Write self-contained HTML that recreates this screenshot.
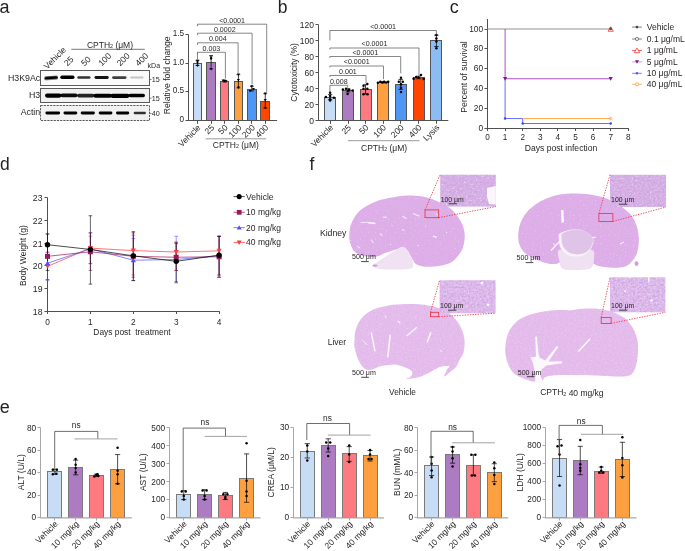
<!DOCTYPE html>
<html><head><meta charset="utf-8"><style>
html,body{margin:0;padding:0;background:#fff;width:685px;height:551px;overflow:hidden}
svg{display:block;will-change:transform;font-family:"Liberation Sans",sans-serif}
</style></head><body>
<svg width="685" height="551" viewBox="0 0 685 551">
<defs><filter id="blur" x="-20%" y="-50%" width="140%" height="200%"><feGaussianBlur stdDeviation="0.75"/></filter>
<filter id="tex" x="0" y="0" width="100%" height="100%"><feTurbulence type="fractalNoise" baseFrequency="0.45" numOctaves="2" seed="7" result="n"/><feColorMatrix in="n" type="matrix" values="0 0 0 0 0.55  0 0 0 0 0.38  0 0 0 0 0.75  0 0 0 2.4 -0.95" result="m"/><feComposite in="m" in2="SourceGraphic" operator="atop" result="d"/><feTurbulence type="fractalNoise" baseFrequency="0.5" numOctaves="1" seed="19" result="n2"/><feColorMatrix in="n2" type="matrix" values="0 0 0 0 1  0 0 0 0 0.97  0 0 0 0 1  0 0 0 1.6 -0.92" result="w"/><feComposite in="w" in2="SourceGraphic" operator="in" result="w2"/><feMerge><feMergeNode in="d"/><feMergeNode in="w2"/></feMerge></filter>
<filter id="tex2" x="0" y="0" width="100%" height="100%"><feTurbulence type="fractalNoise" baseFrequency="0.5" numOctaves="2" seed="11" result="n"/><feColorMatrix in="n" type="matrix" values="0 0 0 0 0.6  0 0 0 0 0.42  0 0 0 0 0.78  0 0 0 0.9 -0.38" result="m"/><feComposite in="m" in2="SourceGraphic" operator="atop" result="d"/><feTurbulence type="fractalNoise" baseFrequency="0.6" numOctaves="1" seed="23" result="n2"/><feColorMatrix in="n2" type="matrix" values="0 0 0 0 1  0 0 0 0 0.98  0 0 0 0 1  0 0 0 1.3 -0.82" result="w"/><feComposite in="w" in2="SourceGraphic" operator="in" result="w2"/><feMerge><feMergeNode in="d"/><feMergeNode in="w2"/></feMerge></filter></defs>
<rect width="685" height="551" fill="#fff"/>
<text x="-0.50" y="12.60" font-size="18" text-anchor="start" fill="#231f20">a</text>
<text x="277.80" y="12.70" font-size="17.5" text-anchor="start" fill="#231f20">b</text>
<text x="449.70" y="12.50" font-size="18" text-anchor="start" fill="#231f20">c</text>
<text x="0.10" y="170.20" font-size="17.5" text-anchor="start" fill="#231f20">d</text>
<text x="309.60" y="170.00" font-size="17.5" text-anchor="start" fill="#231f20">f</text>
<text x="-0.30" y="412.60" font-size="18" text-anchor="start" fill="#231f20">e</text>
<rect x="40.50" y="70.50" width="109.00" height="15.00" fill="#fafafa" stroke="#5a5a5a" stroke-width="1.0"/>
<rect x="40.50" y="88.50" width="109.00" height="14.00" fill="#f1f1f1" stroke="#5a5a5a" stroke-width="1.0"/>
<rect x="40.50" y="105.50" width="109.00" height="15.00" fill="#f1f1f1" stroke="#5a5a5a" stroke-width="1.0" stroke-dasharray="2.2,1"/>
<rect x="44.30" y="76.20" width="13.70" height="3.40" rx="1.70" fill="#000" fill-opacity="1.0" filter="url(#blur)" transform="rotate(-4 51.15 77.90)"/>
<rect x="60.30" y="75.50" width="14.20" height="3.40" rx="1.70" fill="#000" fill-opacity="1.0" filter="url(#blur)"/>
<rect x="77.30" y="76.30" width="13.20" height="2.40" rx="1.20" fill="#000" fill-opacity="0.8" filter="url(#blur)"/>
<rect x="94.50" y="76.10" width="14.20" height="2.80" rx="1.40" fill="#000" fill-opacity="0.92" filter="url(#blur)"/>
<rect x="112.10" y="76.30" width="14.40" height="2.60" rx="1.30" fill="#000" fill-opacity="0.75" filter="url(#blur)"/>
<rect x="130.20" y="76.60" width="13.30" height="2.00" rx="1.00" fill="#000" fill-opacity="0.22" filter="url(#blur)"/>
<rect x="45.00" y="93.50" width="16.50" height="4.20" rx="2.10" fill="#000" fill-opacity="1.0" filter="url(#blur)"/>
<rect x="60.50" y="93.40" width="17.00" height="3.80" rx="1.90" fill="#000" fill-opacity="0.95" filter="url(#blur)"/>
<rect x="77.00" y="93.80" width="17.50" height="3.60" rx="1.80" fill="#000" fill-opacity="0.85" filter="url(#blur)"/>
<rect x="93.50" y="93.70" width="18.50" height="4.00" rx="2.00" fill="#000" fill-opacity="1.0" filter="url(#blur)"/>
<rect x="110.50" y="93.70" width="19.00" height="4.20" rx="2.10" fill="#000" fill-opacity="1.0" filter="url(#blur)"/>
<rect x="128.50" y="93.70" width="16.50" height="3.60" rx="1.80" fill="#000" fill-opacity="1.0" filter="url(#blur)"/>
<rect x="45.40" y="111.60" width="14.70" height="2.80" rx="1.40" fill="#000" fill-opacity="1.0" filter="url(#blur)"/>
<rect x="63.50" y="111.60" width="13.80" height="2.80" rx="1.40" fill="#000" fill-opacity="1.0" filter="url(#blur)"/>
<rect x="80.70" y="111.60" width="14.20" height="2.80" rx="1.40" fill="#000" fill-opacity="1.0" filter="url(#blur)"/>
<rect x="98.70" y="111.60" width="13.70" height="2.80" rx="1.40" fill="#000" fill-opacity="1.0" filter="url(#blur)"/>
<rect x="116.00" y="111.60" width="13.30" height="2.80" rx="1.40" fill="#000" fill-opacity="1.0" filter="url(#blur)"/>
<rect x="133.70" y="111.80" width="12.20" height="2.40" rx="1.20" fill="#000" fill-opacity="0.8" filter="url(#blur)"/>
<text x="40.20" y="81.00" font-size="8.8" text-anchor="end" fill="#231f20">H3K9Ac</text>
<text x="40.20" y="98.00" font-size="8.8" text-anchor="end" fill="#231f20">H3</text>
<text x="40.20" y="114.80" font-size="8.8" text-anchor="end" fill="#231f20">Actin</text>
<text x="147.60" y="67.80" font-size="7" text-anchor="start" fill="#231f20">kDa</text>
<line x1="149.60" y1="79.50" x2="151.60" y2="79.50" stroke="#555" stroke-width="0.7"/>
<text x="151.80" y="82.10" font-size="7.2" text-anchor="start" fill="#231f20">15</text>
<line x1="149.60" y1="98.20" x2="151.60" y2="98.20" stroke="#555" stroke-width="0.7"/>
<text x="151.80" y="100.80" font-size="7.2" text-anchor="start" fill="#231f20">15</text>
<line x1="149.60" y1="113.40" x2="151.60" y2="113.40" stroke="#555" stroke-width="0.7"/>
<text x="151.80" y="116.00" font-size="7.2" text-anchor="start" fill="#231f20">40</text>
<text x="0.00" y="0.00" font-size="8.5" text-anchor="start" fill="#231f20" transform="translate(47.20,69.70) rotate(-45)">Vehicle</text>
<text x="0.00" y="0.00" font-size="8.5" text-anchor="start" fill="#231f20" transform="translate(67.50,66.50) rotate(-45)">25</text>
<text x="0.00" y="0.00" font-size="8.5" text-anchor="start" fill="#231f20" transform="translate(84.60,66.50) rotate(-45)">50</text>
<text x="0.00" y="0.00" font-size="8.5" text-anchor="start" fill="#231f20" transform="translate(101.70,66.50) rotate(-45)">100</text>
<text x="0.00" y="0.00" font-size="8.5" text-anchor="start" fill="#231f20" transform="translate(120.20,66.50) rotate(-45)">200</text>
<text x="0.00" y="0.00" font-size="8.5" text-anchor="start" fill="#231f20" transform="translate(138.80,66.50) rotate(-45)">400</text>
<line x1="71.30" y1="49.30" x2="144.80" y2="49.30" stroke="#555" stroke-width="0.8"/>
<text x="110.00" y="47.50" font-size="8.5" text-anchor="middle" fill="#231f20">CPTH<tspan font-size="0.62em" dy="0.05em">2</tspan> (μM)</text>
<rect x="193.50" y="63.50" width="8.00" height="57.00" fill="#c7dcf5" stroke="#555" stroke-width="1.0"/>
<rect x="206.50" y="62.50" width="9.00" height="58.00" fill="#ac7bc2" stroke="#555" stroke-width="1.0"/>
<rect x="220.50" y="81.50" width="8.00" height="39.00" fill="#ff7a80" stroke="#555" stroke-width="1.0"/>
<rect x="234.50" y="81.50" width="8.00" height="39.00" fill="#ffa040" stroke="#555" stroke-width="1.0"/>
<rect x="247.50" y="89.50" width="9.00" height="31.00" fill="#4f96f5" stroke="#555" stroke-width="1.0"/>
<rect x="260.50" y="101.50" width="9.00" height="19.00" fill="#ff4500" stroke="#555" stroke-width="1.0"/>
<line x1="197.50" y1="60.34" x2="197.50" y2="65.49" stroke="#000" stroke-width="0.75"/>
<line x1="195.60" y1="60.34" x2="199.40" y2="60.34" stroke="#000" stroke-width="0.75"/>
<line x1="195.60" y1="65.49" x2="199.40" y2="65.49" stroke="#000" stroke-width="0.75"/>
<path d="M196.00,59.81 L199.00,59.81 L197.50,62.21 Z" fill="#000" stroke="none" stroke-width="0.7"/>
<path d="M196.00,61.53 L199.00,61.53 L197.50,63.93 Z" fill="#000" stroke="none" stroke-width="0.7"/>
<path d="M196.00,64.68 L199.00,64.68 L197.50,67.08 Z" fill="#000" stroke="none" stroke-width="0.7"/>
<line x1="211.10" y1="55.58" x2="211.10" y2="68.93" stroke="#000" stroke-width="0.75"/>
<line x1="209.20" y1="55.58" x2="213.00" y2="55.58" stroke="#000" stroke-width="0.75"/>
<line x1="209.20" y1="68.93" x2="213.00" y2="68.93" stroke="#000" stroke-width="0.75"/>
<path d="M209.60,56.48 L212.60,56.48 L211.10,58.88 Z" fill="#000" stroke="none" stroke-width="0.7"/>
<path d="M209.60,57.97 L212.60,57.97 L211.10,60.37 Z" fill="#000" stroke="none" stroke-width="0.7"/>
<path d="M209.60,68.06 L212.60,68.06 L211.10,70.46 Z" fill="#000" stroke="none" stroke-width="0.7"/>
<line x1="224.60" y1="80.39" x2="224.60" y2="82.11" stroke="#000" stroke-width="0.75"/>
<line x1="222.70" y1="80.39" x2="226.50" y2="80.39" stroke="#000" stroke-width="0.75"/>
<line x1="222.70" y1="82.11" x2="226.50" y2="82.11" stroke="#000" stroke-width="0.75"/>
<path d="M221.60,79.58 L224.60,79.58 L223.10,81.98 Z" fill="#000" stroke="none" stroke-width="0.7"/>
<path d="M223.10,79.86 L226.10,79.86 L224.60,82.26 Z" fill="#000" stroke="none" stroke-width="0.7"/>
<path d="M224.60,80.15 L227.60,80.15 L226.10,82.55 Z" fill="#000" stroke="none" stroke-width="0.7"/>
<line x1="238.40" y1="74.66" x2="238.40" y2="87.84" stroke="#000" stroke-width="0.75"/>
<line x1="236.50" y1="74.66" x2="240.30" y2="74.66" stroke="#000" stroke-width="0.75"/>
<line x1="236.50" y1="87.84" x2="240.30" y2="87.84" stroke="#000" stroke-width="0.75"/>
<path d="M236.90,73.56 L239.90,73.56 L238.40,75.96 Z" fill="#000" stroke="none" stroke-width="0.7"/>
<path d="M236.90,79.12 L239.90,79.12 L238.40,81.52 Z" fill="#000" stroke="none" stroke-width="0.7"/>
<path d="M236.90,86.62 L239.90,86.62 L238.40,89.02 Z" fill="#000" stroke="none" stroke-width="0.7"/>
<line x1="251.80" y1="86.35" x2="251.80" y2="90.99" stroke="#000" stroke-width="0.75"/>
<line x1="249.90" y1="86.35" x2="253.70" y2="86.35" stroke="#000" stroke-width="0.75"/>
<line x1="249.90" y1="90.99" x2="253.70" y2="90.99" stroke="#000" stroke-width="0.75"/>
<path d="M250.30,85.25 L253.30,85.25 L251.80,87.65 Z" fill="#000" stroke="none" stroke-width="0.7"/>
<path d="M248.50,89.95 L251.50,89.95 L250.00,92.35 Z" fill="#000" stroke="none" stroke-width="0.7"/>
<path d="M252.00,88.11 L255.00,88.11 L253.50,90.51 Z" fill="#000" stroke="none" stroke-width="0.7"/>
<line x1="265.25" y1="93.68" x2="265.25" y2="108.01" stroke="#000" stroke-width="0.75"/>
<line x1="263.35" y1="93.68" x2="267.15" y2="93.68" stroke="#000" stroke-width="0.75"/>
<line x1="263.35" y1="108.01" x2="267.15" y2="108.01" stroke="#000" stroke-width="0.75"/>
<path d="M263.75,92.58 L266.75,92.58 L265.25,94.98 Z" fill="#000" stroke="none" stroke-width="0.7"/>
<path d="M263.75,99.12 L266.75,99.12 L265.25,101.52 Z" fill="#000" stroke="none" stroke-width="0.7"/>
<path d="M263.75,106.91 L266.75,106.91 L265.25,109.31 Z" fill="#000" stroke="none" stroke-width="0.7"/>
<line x1="188.50" y1="34.50" x2="188.50" y2="120.50" stroke="#505050" stroke-width="1.0"/>
<line x1="188.00" y1="120.50" x2="277.10" y2="120.50" stroke="#505050" stroke-width="1.0"/>
<line x1="185.50" y1="120.50" x2="188.50" y2="120.50" stroke="#505050" stroke-width="1.0"/>
<text x="184.10" y="122.10" font-size="8.2" text-anchor="end" fill="#231f20">0</text>
<line x1="185.50" y1="91.50" x2="188.50" y2="91.50" stroke="#505050" stroke-width="1.0"/>
<text x="184.10" y="93.10" font-size="8.2" text-anchor="end" fill="#231f20">0.5</text>
<line x1="185.50" y1="63.50" x2="188.50" y2="63.50" stroke="#505050" stroke-width="1.0"/>
<text x="184.10" y="65.10" font-size="8.2" text-anchor="end" fill="#231f20">1.0</text>
<line x1="185.50" y1="34.50" x2="188.50" y2="34.50" stroke="#505050" stroke-width="1.0"/>
<text x="184.10" y="36.10" font-size="8.2" text-anchor="end" fill="#231f20">1.5</text>
<line x1="197.50" y1="120.50" x2="197.50" y2="123.80" stroke="#505050" stroke-width="1.0"/>
<line x1="211.50" y1="120.50" x2="211.50" y2="123.80" stroke="#505050" stroke-width="1.0"/>
<line x1="224.50" y1="120.50" x2="224.50" y2="123.80" stroke="#505050" stroke-width="1.0"/>
<line x1="238.50" y1="120.50" x2="238.50" y2="123.80" stroke="#505050" stroke-width="1.0"/>
<line x1="251.50" y1="120.50" x2="251.50" y2="123.80" stroke="#505050" stroke-width="1.0"/>
<line x1="265.50" y1="120.50" x2="265.50" y2="123.80" stroke="#505050" stroke-width="1.0"/>
<text x="0.00" y="0.00" font-size="8.5" text-anchor="end" fill="#231f20" transform="translate(201.20,128.10) rotate(-45)">Vehicle</text>
<text x="0.00" y="0.00" font-size="8.5" text-anchor="end" fill="#231f20" transform="translate(214.80,128.10) rotate(-45)">25</text>
<text x="0.00" y="0.00" font-size="8.5" text-anchor="end" fill="#231f20" transform="translate(228.30,128.10) rotate(-45)">50</text>
<text x="0.00" y="0.00" font-size="8.5" text-anchor="end" fill="#231f20" transform="translate(242.10,128.10) rotate(-45)">100</text>
<text x="0.00" y="0.00" font-size="8.5" text-anchor="end" fill="#231f20" transform="translate(255.50,128.10) rotate(-45)">200</text>
<text x="0.00" y="0.00" font-size="8.5" text-anchor="end" fill="#231f20" transform="translate(268.95,128.10) rotate(-45)">400</text>
<text x="0.00" y="0.00" font-size="8.6" text-anchor="middle" fill="#231f20" transform="translate(170.00,75.30) rotate(-90)">Relative fold change</text>
<line x1="205.60" y1="138.80" x2="266.30" y2="138.80" stroke="#9a9a9a" stroke-width="1.0"/>
<text x="235.80" y="147.90" font-size="8.5" text-anchor="middle" fill="#231f20">CPTH<tspan font-size="0.62em" dy="0.05em">2</tspan> (μM)</text>
<line x1="197.50" y1="52.30" x2="225.40" y2="52.30" stroke="#555" stroke-width="0.7"/>
<line x1="197.50" y1="52.30" x2="197.50" y2="54.30" stroke="#555" stroke-width="0.7"/>
<line x1="225.40" y1="52.30" x2="225.40" y2="78.60" stroke="#555" stroke-width="0.7"/>
<text x="211.45" y="50.80" font-size="7.1" text-anchor="middle" fill="#231f20">0.003</text>
<line x1="197.50" y1="42.80" x2="238.10" y2="42.80" stroke="#555" stroke-width="0.7"/>
<line x1="197.50" y1="42.80" x2="197.50" y2="44.80" stroke="#555" stroke-width="0.7"/>
<line x1="238.10" y1="42.80" x2="238.10" y2="73.50" stroke="#555" stroke-width="0.7"/>
<text x="217.80" y="41.30" font-size="7.1" text-anchor="middle" fill="#231f20">0.004</text>
<line x1="197.50" y1="33.20" x2="252.10" y2="33.20" stroke="#555" stroke-width="0.7"/>
<line x1="197.50" y1="33.20" x2="197.50" y2="35.20" stroke="#555" stroke-width="0.7"/>
<line x1="252.10" y1="33.20" x2="252.10" y2="84.50" stroke="#555" stroke-width="0.7"/>
<text x="224.80" y="31.70" font-size="7.1" text-anchor="middle" fill="#231f20">0.0002</text>
<line x1="197.50" y1="24.20" x2="266.70" y2="24.20" stroke="#555" stroke-width="0.7"/>
<line x1="197.50" y1="24.20" x2="197.50" y2="26.20" stroke="#555" stroke-width="0.7"/>
<line x1="266.70" y1="24.20" x2="266.70" y2="92.50" stroke="#555" stroke-width="0.7"/>
<text x="232.10" y="22.70" font-size="7.1" text-anchor="middle" fill="#231f20">&lt;0.0001</text>
<line x1="197.50" y1="52.30" x2="197.50" y2="59.50" stroke="#555" stroke-width="0.7"/>
<rect x="324.50" y="97.50" width="11.00" height="23.00" fill="#c7dcf5" stroke="#555" stroke-width="1.0"/>
<rect x="342.50" y="90.50" width="11.00" height="30.00" fill="#ac7bc2" stroke="#555" stroke-width="1.0"/>
<rect x="360.50" y="89.50" width="11.00" height="31.00" fill="#ff7a80" stroke="#555" stroke-width="1.0"/>
<rect x="377.50" y="82.50" width="11.00" height="38.00" fill="#ffa040" stroke="#555" stroke-width="1.0"/>
<rect x="395.50" y="84.50" width="11.00" height="36.00" fill="#4f96f5" stroke="#555" stroke-width="1.0"/>
<rect x="413.50" y="77.50" width="11.00" height="43.00" fill="#ff4500" stroke="#555" stroke-width="1.0"/>
<rect x="430.50" y="40.50" width="11.00" height="80.00" fill="#8cbcf4" stroke="#555" stroke-width="1.0"/>
<line x1="330.10" y1="94.61" x2="330.10" y2="99.76" stroke="#000" stroke-width="0.75"/>
<line x1="327.90" y1="94.61" x2="332.30" y2="94.61" stroke="#000" stroke-width="0.75"/>
<line x1="327.90" y1="99.76" x2="332.30" y2="99.76" stroke="#000" stroke-width="0.75"/>
<circle cx="330.10" cy="92.68" r="1.25" fill="#000"/>
<circle cx="325.90" cy="97.02" r="1.25" fill="#000"/>
<circle cx="333.90" cy="97.83" r="1.25" fill="#000"/>
<circle cx="330.10" cy="99.19" r="1.25" fill="#000"/>
<circle cx="330.10" cy="100.48" r="1.25" fill="#000"/>
<circle cx="330.10" cy="95.98" r="1.25" fill="#000"/>
<line x1="348.00" y1="88.74" x2="348.00" y2="91.96" stroke="#000" stroke-width="0.75"/>
<line x1="345.80" y1="88.74" x2="350.20" y2="88.74" stroke="#000" stroke-width="0.75"/>
<line x1="345.80" y1="91.96" x2="350.20" y2="91.96" stroke="#000" stroke-width="0.75"/>
<circle cx="342.90" cy="89.47" r="1.25" fill="#000"/>
<circle cx="346.00" cy="88.66" r="1.25" fill="#000"/>
<circle cx="348.00" cy="90.67" r="1.25" fill="#000"/>
<circle cx="349.20" cy="89.87" r="1.25" fill="#000"/>
<circle cx="352.70" cy="90.43" r="1.25" fill="#000"/>
<circle cx="347.60" cy="93.89" r="1.25" fill="#000"/>
<line x1="365.50" y1="84.72" x2="365.50" y2="93.97" stroke="#000" stroke-width="0.75"/>
<line x1="363.30" y1="84.72" x2="367.70" y2="84.72" stroke="#000" stroke-width="0.75"/>
<line x1="363.30" y1="93.97" x2="367.70" y2="93.97" stroke="#000" stroke-width="0.75"/>
<circle cx="363.50" cy="85.69" r="1.25" fill="#000"/>
<circle cx="367.30" cy="83.92" r="1.25" fill="#000"/>
<circle cx="363.50" cy="88.66" r="1.25" fill="#000"/>
<circle cx="367.30" cy="88.66" r="1.25" fill="#000"/>
<circle cx="363.50" cy="94.13" r="1.25" fill="#000"/>
<circle cx="367.50" cy="94.13" r="1.25" fill="#000"/>
<line x1="383.00" y1="81.75" x2="383.00" y2="82.87" stroke="#000" stroke-width="0.75"/>
<line x1="380.80" y1="81.75" x2="385.20" y2="81.75" stroke="#000" stroke-width="0.75"/>
<line x1="380.80" y1="82.87" x2="385.20" y2="82.87" stroke="#000" stroke-width="0.75"/>
<circle cx="377.90" cy="82.87" r="1.25" fill="#000"/>
<circle cx="380.30" cy="81.75" r="1.25" fill="#000"/>
<circle cx="382.30" cy="82.55" r="1.25" fill="#000"/>
<circle cx="384.20" cy="81.75" r="1.25" fill="#000"/>
<circle cx="386.20" cy="82.55" r="1.25" fill="#000"/>
<circle cx="388.20" cy="81.75" r="1.25" fill="#000"/>
<line x1="400.70" y1="79.42" x2="400.70" y2="89.39" stroke="#000" stroke-width="0.75"/>
<line x1="398.50" y1="79.42" x2="402.90" y2="79.42" stroke="#000" stroke-width="0.75"/>
<line x1="398.50" y1="89.39" x2="402.90" y2="89.39" stroke="#000" stroke-width="0.75"/>
<circle cx="401.00" cy="77.81" r="1.25" fill="#000"/>
<circle cx="398.80" cy="81.67" r="1.25" fill="#000"/>
<circle cx="402.80" cy="81.67" r="1.25" fill="#000"/>
<circle cx="401.00" cy="84.16" r="1.25" fill="#000"/>
<circle cx="401.00" cy="87.86" r="1.25" fill="#000"/>
<circle cx="401.00" cy="92.12" r="1.25" fill="#000"/>
<line x1="418.50" y1="76.28" x2="418.50" y2="78.69" stroke="#000" stroke-width="0.75"/>
<line x1="416.30" y1="76.28" x2="420.70" y2="76.28" stroke="#000" stroke-width="0.75"/>
<line x1="416.30" y1="78.69" x2="420.70" y2="78.69" stroke="#000" stroke-width="0.75"/>
<circle cx="413.60" cy="78.69" r="1.25" fill="#000"/>
<circle cx="416.20" cy="76.92" r="1.25" fill="#000"/>
<circle cx="418.60" cy="77.73" r="1.25" fill="#000"/>
<circle cx="421.00" cy="74.99" r="1.25" fill="#000"/>
<circle cx="423.60" cy="78.93" r="1.25" fill="#000"/>
<line x1="436.40" y1="35.20" x2="436.40" y2="46.53" stroke="#000" stroke-width="0.75"/>
<line x1="434.20" y1="35.20" x2="438.60" y2="35.20" stroke="#000" stroke-width="0.75"/>
<line x1="434.20" y1="46.53" x2="438.60" y2="46.53" stroke="#000" stroke-width="0.75"/>
<circle cx="436.40" cy="35.03" r="1.25" fill="#000"/>
<circle cx="436.40" cy="38.41" r="1.25" fill="#000"/>
<circle cx="436.40" cy="41.39" r="1.25" fill="#000"/>
<circle cx="436.40" cy="48.30" r="1.25" fill="#000"/>
<line x1="318.50" y1="24.50" x2="318.50" y2="120.50" stroke="#505050" stroke-width="1.0"/>
<line x1="318.00" y1="120.50" x2="448.30" y2="120.50" stroke="#505050" stroke-width="1.0"/>
<line x1="315.50" y1="120.50" x2="318.50" y2="120.50" stroke="#505050" stroke-width="1.0"/>
<text x="314.00" y="123.70" font-size="8.5" text-anchor="end" fill="#231f20">0</text>
<line x1="315.50" y1="104.50" x2="318.50" y2="104.50" stroke="#505050" stroke-width="1.0"/>
<text x="314.00" y="107.70" font-size="8.5" text-anchor="end" fill="#231f20">20</text>
<line x1="315.50" y1="88.50" x2="318.50" y2="88.50" stroke="#505050" stroke-width="1.0"/>
<text x="314.00" y="91.70" font-size="8.5" text-anchor="end" fill="#231f20">40</text>
<line x1="315.50" y1="72.50" x2="318.50" y2="72.50" stroke="#505050" stroke-width="1.0"/>
<text x="314.00" y="75.70" font-size="8.5" text-anchor="end" fill="#231f20">60</text>
<line x1="315.50" y1="56.50" x2="318.50" y2="56.50" stroke="#505050" stroke-width="1.0"/>
<text x="314.00" y="59.70" font-size="8.5" text-anchor="end" fill="#231f20">80</text>
<line x1="315.50" y1="40.50" x2="318.50" y2="40.50" stroke="#505050" stroke-width="1.0"/>
<text x="314.00" y="43.70" font-size="8.5" text-anchor="end" fill="#231f20">100</text>
<line x1="315.50" y1="24.50" x2="318.50" y2="24.50" stroke="#505050" stroke-width="1.0"/>
<text x="314.00" y="27.70" font-size="8.5" text-anchor="end" fill="#231f20">120</text>
<line x1="330.50" y1="120.50" x2="330.50" y2="123.80" stroke="#505050" stroke-width="1.0"/>
<line x1="348.50" y1="120.50" x2="348.50" y2="123.80" stroke="#505050" stroke-width="1.0"/>
<line x1="365.50" y1="120.50" x2="365.50" y2="123.80" stroke="#505050" stroke-width="1.0"/>
<line x1="383.50" y1="120.50" x2="383.50" y2="123.80" stroke="#505050" stroke-width="1.0"/>
<line x1="400.50" y1="120.50" x2="400.50" y2="123.80" stroke="#505050" stroke-width="1.0"/>
<line x1="418.50" y1="120.50" x2="418.50" y2="123.80" stroke="#505050" stroke-width="1.0"/>
<line x1="436.50" y1="120.50" x2="436.50" y2="123.80" stroke="#505050" stroke-width="1.0"/>
<text x="0.00" y="0.00" font-size="8.5" text-anchor="end" fill="#231f20" transform="translate(333.80,128.10) rotate(-45)">Vehicle</text>
<text x="0.00" y="0.00" font-size="8.5" text-anchor="end" fill="#231f20" transform="translate(351.70,128.10) rotate(-45)">25</text>
<text x="0.00" y="0.00" font-size="8.5" text-anchor="end" fill="#231f20" transform="translate(369.20,128.10) rotate(-45)">50</text>
<text x="0.00" y="0.00" font-size="8.5" text-anchor="end" fill="#231f20" transform="translate(386.70,128.10) rotate(-45)">100</text>
<text x="0.00" y="0.00" font-size="8.5" text-anchor="end" fill="#231f20" transform="translate(404.40,128.10) rotate(-45)">200</text>
<text x="0.00" y="0.00" font-size="8.5" text-anchor="end" fill="#231f20" transform="translate(422.20,128.10) rotate(-45)">400</text>
<text x="0.00" y="0.00" font-size="8.5" text-anchor="end" fill="#231f20" transform="translate(440.10,128.10) rotate(-45)">Lysis</text>
<text x="0.00" y="0.00" font-size="8.45" text-anchor="middle" fill="#231f20" transform="translate(296.50,72.40) rotate(-90)">Cytotoxicity (%)</text>
<line x1="347.90" y1="140.70" x2="419.60" y2="140.70" stroke="#9a9a9a" stroke-width="1.0"/>
<text x="384.10" y="151.20" font-size="8.5" text-anchor="middle" fill="#231f20">CPTH<tspan font-size="0.62em" dy="0.05em">2</tspan> (μM)</text>
<line x1="329.90" y1="30.50" x2="436.40" y2="30.50" stroke="#555" stroke-width="0.7"/>
<line x1="329.90" y1="30.50" x2="329.90" y2="40.40" stroke="#555" stroke-width="0.7"/>
<line x1="436.40" y1="30.50" x2="436.40" y2="34.50" stroke="#555" stroke-width="0.7"/>
<text x="383.15" y="28.80" font-size="7.1" text-anchor="middle" fill="#231f20">&lt;0.0001</text>
<line x1="329.90" y1="48.00" x2="419.00" y2="48.00" stroke="#555" stroke-width="0.7"/>
<line x1="329.90" y1="48.00" x2="329.90" y2="49.50" stroke="#555" stroke-width="0.7"/>
<line x1="419.00" y1="48.00" x2="419.00" y2="76.20" stroke="#555" stroke-width="0.7"/>
<text x="374.45" y="46.30" font-size="7.1" text-anchor="middle" fill="#231f20">&lt;0.0001</text>
<line x1="329.90" y1="56.50" x2="400.70" y2="56.50" stroke="#555" stroke-width="0.7"/>
<line x1="329.90" y1="56.50" x2="329.90" y2="58.00" stroke="#555" stroke-width="0.7"/>
<line x1="400.70" y1="56.50" x2="400.70" y2="73.30" stroke="#555" stroke-width="0.7"/>
<text x="365.30" y="54.80" font-size="7.1" text-anchor="middle" fill="#231f20">&lt;0.0001</text>
<line x1="329.90" y1="66.00" x2="383.50" y2="66.00" stroke="#555" stroke-width="0.7"/>
<line x1="329.90" y1="66.00" x2="329.90" y2="67.50" stroke="#555" stroke-width="0.7"/>
<line x1="383.50" y1="66.00" x2="383.50" y2="79.10" stroke="#555" stroke-width="0.7"/>
<text x="356.70" y="64.30" font-size="7.1" text-anchor="middle" fill="#231f20">&lt;0.0001</text>
<line x1="329.90" y1="75.50" x2="366.00" y2="75.50" stroke="#555" stroke-width="0.7"/>
<line x1="329.90" y1="75.50" x2="329.90" y2="77.00" stroke="#555" stroke-width="0.7"/>
<line x1="366.00" y1="75.50" x2="366.00" y2="83.50" stroke="#555" stroke-width="0.7"/>
<text x="347.95" y="73.80" font-size="7.1" text-anchor="middle" fill="#231f20">0.001</text>
<line x1="329.90" y1="85.30" x2="347.70" y2="85.30" stroke="#555" stroke-width="0.7"/>
<line x1="329.90" y1="85.30" x2="329.90" y2="92.30" stroke="#555" stroke-width="0.7"/>
<line x1="347.70" y1="85.30" x2="347.70" y2="87.90" stroke="#555" stroke-width="0.7"/>
<text x="338.80" y="83.60" font-size="7.1" text-anchor="middle" fill="#231f20">0.008</text>
<line x1="487.50" y1="19.00" x2="487.50" y2="128.50" stroke="#505050" stroke-width="1.0"/>
<line x1="487.00" y1="128.50" x2="628.80" y2="128.50" stroke="#505050" stroke-width="1.0"/>
<line x1="484.50" y1="128.50" x2="487.50" y2="128.50" stroke="#505050" stroke-width="1.0"/>
<text x="483.20" y="131.40" font-size="8.4" text-anchor="end" fill="#231f20">0</text>
<line x1="484.50" y1="108.50" x2="487.50" y2="108.50" stroke="#505050" stroke-width="1.0"/>
<text x="483.20" y="111.40" font-size="8.4" text-anchor="end" fill="#231f20">20</text>
<line x1="484.50" y1="88.50" x2="487.50" y2="88.50" stroke="#505050" stroke-width="1.0"/>
<text x="483.20" y="91.40" font-size="8.4" text-anchor="end" fill="#231f20">40</text>
<line x1="484.50" y1="68.50" x2="487.50" y2="68.50" stroke="#505050" stroke-width="1.0"/>
<text x="483.20" y="71.40" font-size="8.4" text-anchor="end" fill="#231f20">60</text>
<line x1="484.50" y1="48.50" x2="487.50" y2="48.50" stroke="#505050" stroke-width="1.0"/>
<text x="483.20" y="51.40" font-size="8.4" text-anchor="end" fill="#231f20">80</text>
<line x1="484.50" y1="29.50" x2="487.50" y2="29.50" stroke="#505050" stroke-width="1.0"/>
<text x="483.20" y="32.40" font-size="8.4" text-anchor="end" fill="#231f20">100</text>
<line x1="487.50" y1="128.50" x2="487.50" y2="131.00" stroke="#505050" stroke-width="1.0"/>
<text x="487.50" y="139.60" font-size="8.2" text-anchor="middle" fill="#231f20">0</text>
<line x1="505.50" y1="128.50" x2="505.50" y2="131.00" stroke="#505050" stroke-width="1.0"/>
<text x="505.10" y="139.60" font-size="8.2" text-anchor="middle" fill="#231f20">1</text>
<line x1="522.50" y1="128.50" x2="522.50" y2="131.00" stroke="#505050" stroke-width="1.0"/>
<text x="522.70" y="139.60" font-size="8.2" text-anchor="middle" fill="#231f20">2</text>
<line x1="540.50" y1="128.50" x2="540.50" y2="131.00" stroke="#505050" stroke-width="1.0"/>
<text x="540.30" y="139.60" font-size="8.2" text-anchor="middle" fill="#231f20">3</text>
<line x1="557.50" y1="128.50" x2="557.50" y2="131.00" stroke="#505050" stroke-width="1.0"/>
<text x="557.90" y="139.60" font-size="8.2" text-anchor="middle" fill="#231f20">4</text>
<line x1="575.50" y1="128.50" x2="575.50" y2="131.00" stroke="#505050" stroke-width="1.0"/>
<text x="575.50" y="139.60" font-size="8.2" text-anchor="middle" fill="#231f20">5</text>
<line x1="593.50" y1="128.50" x2="593.50" y2="131.00" stroke="#505050" stroke-width="1.0"/>
<text x="593.10" y="139.60" font-size="8.2" text-anchor="middle" fill="#231f20">6</text>
<line x1="610.50" y1="128.50" x2="610.50" y2="131.00" stroke="#505050" stroke-width="1.0"/>
<text x="610.70" y="139.60" font-size="8.2" text-anchor="middle" fill="#231f20">7</text>
<line x1="628.50" y1="128.50" x2="628.50" y2="131.00" stroke="#505050" stroke-width="1.0"/>
<text x="628.30" y="139.60" font-size="8.2" text-anchor="middle" fill="#231f20">8</text>
<text x="561.00" y="150.60" font-size="8.6" text-anchor="middle" fill="#231f20">Days post infection</text>
<text x="0.00" y="0.00" font-size="8.7" text-anchor="middle" fill="#231f20" transform="translate(467.40,77.00) rotate(-90)">Percent of survival</text>
<line x1="487.50" y1="29.00" x2="610.70" y2="29.00" stroke="#9a9090" stroke-width="1.0"/>
<line x1="505.10" y1="29.00" x2="505.10" y2="78.75" stroke="#a040c0" stroke-width="0.9"/>
<line x1="505.10" y1="78.75" x2="610.70" y2="78.75" stroke="#a040c0" stroke-width="0.9"/>
<line x1="505.10" y1="78.75" x2="505.10" y2="118.55" stroke="#5a5aff" stroke-width="0.9"/>
<line x1="505.10" y1="118.55" x2="522.70" y2="118.55" stroke="#5a5aff" stroke-width="0.9"/>
<line x1="522.70" y1="118.55" x2="522.70" y2="123.53" stroke="#5a5aff" stroke-width="0.9"/>
<line x1="522.70" y1="123.53" x2="610.70" y2="123.53" stroke="#5a5aff" stroke-width="0.9"/>
<line x1="522.70" y1="118.55" x2="610.70" y2="118.55" stroke="#ffa040" stroke-width="0.9"/>
<path d="M503.00,77.07 L507.20,77.07 L505.10,80.64 Z" fill="#7a1a90" stroke="none" stroke-width="0.7"/>
<path d="M608.60,77.07 L612.80,77.07 L610.70,80.64 Z" fill="#7a1a90" stroke="none" stroke-width="0.7"/>
<circle cx="505.10" cy="118.55" r="1.3" fill="#4040ff"/>
<circle cx="522.70" cy="123.53" r="1.3" fill="#4040ff"/>
<circle cx="610.70" cy="123.53" r="1.3" fill="#4040ff"/>
<circle cx="610.70" cy="118.55" r="1.3" fill="none" stroke="#ffa040" stroke-width="0.8"/>
<path d="M608.10,31.28 L613.30,31.28 L610.70,26.86 Z" fill="none" stroke="#ff3030" stroke-width="0.8"/>
<circle cx="610.70" cy="28.70" r="1.5" fill="#555"/>
<line x1="632.10" y1="27.10" x2="641.90" y2="27.10" stroke="#555" stroke-width="0.75"/>
<circle cx="637.00" cy="27.10" r="1.3" fill="#444"/>
<text x="646.80" y="30.00" font-size="8.5" text-anchor="start" fill="#231f20">Vehicle</text>
<line x1="632.10" y1="39.00" x2="641.90" y2="39.00" stroke="#555" stroke-width="0.75"/>
<rect x="635.6" y="37.6" width="2.8" height="2.8" rx="0.8" fill="white" stroke="#555" stroke-width="0.9"/>
<text x="646.80" y="41.90" font-size="8.5" text-anchor="start" fill="#231f20">0.1 μg/mL</text>
<line x1="632.10" y1="50.50" x2="641.90" y2="50.50" stroke="#ff3030" stroke-width="0.75"/>
<path d="M634.30,52.66 L639.70,52.66 L637.00,48.07 Z" fill="white" stroke="#ff3030" stroke-width="0.8"/>
<text x="646.80" y="53.40" font-size="8.5" text-anchor="start" fill="#231f20">1 μg/mL</text>
<line x1="632.10" y1="61.90" x2="641.90" y2="61.90" stroke="#c080d0" stroke-width="0.75"/>
<path d="M634.90,60.22 L639.10,60.22 L637.00,63.79 Z" fill="#7a1a90" stroke="none" stroke-width="0.7"/>
<text x="646.80" y="64.80" font-size="8.5" text-anchor="start" fill="#231f20">5 μg/mL</text>
<line x1="632.10" y1="73.30" x2="641.90" y2="73.30" stroke="#5a5aff" stroke-width="0.75"/>
<circle cx="637.00" cy="73.30" r="1.3" fill="#5a5aff"/>
<text x="646.80" y="76.20" font-size="8.5" text-anchor="start" fill="#231f20">10 μg/mL</text>
<line x1="632.10" y1="84.30" x2="641.90" y2="84.30" stroke="#ffa040" stroke-width="0.75"/>
<rect x="635.6" y="82.89999999999999" width="2.8" height="2.8" rx="0.8" fill="white" stroke="#ffa040" stroke-width="0.9"/>
<text x="646.80" y="87.20" font-size="8.5" text-anchor="start" fill="#231f20">40 μg/mL</text>
<line x1="47.50" y1="197.50" x2="47.50" y2="311.50" stroke="#505050" stroke-width="1.0"/>
<line x1="47.00" y1="311.50" x2="219.60" y2="311.50" stroke="#505050" stroke-width="1.0"/>
<line x1="44.50" y1="311.50" x2="47.50" y2="311.50" stroke="#505050" stroke-width="1.0"/>
<text x="42.50" y="314.60" font-size="8.7" text-anchor="end" fill="#231f20">18</text>
<line x1="44.50" y1="288.50" x2="47.50" y2="288.50" stroke="#505050" stroke-width="1.0"/>
<text x="42.50" y="291.60" font-size="8.7" text-anchor="end" fill="#231f20">19</text>
<line x1="44.50" y1="265.50" x2="47.50" y2="265.50" stroke="#505050" stroke-width="1.0"/>
<text x="42.50" y="268.60" font-size="8.7" text-anchor="end" fill="#231f20">20</text>
<line x1="44.50" y1="243.50" x2="47.50" y2="243.50" stroke="#505050" stroke-width="1.0"/>
<text x="42.50" y="246.60" font-size="8.7" text-anchor="end" fill="#231f20">21</text>
<line x1="44.50" y1="220.50" x2="47.50" y2="220.50" stroke="#505050" stroke-width="1.0"/>
<text x="42.50" y="223.60" font-size="8.7" text-anchor="end" fill="#231f20">22</text>
<line x1="44.50" y1="197.50" x2="47.50" y2="197.50" stroke="#505050" stroke-width="1.0"/>
<text x="42.50" y="200.60" font-size="8.7" text-anchor="end" fill="#231f20">23</text>
<line x1="47.50" y1="311.50" x2="47.50" y2="314.00" stroke="#505050" stroke-width="1.0"/>
<text x="47.50" y="324.60" font-size="8.3" text-anchor="middle" fill="#231f20">0</text>
<line x1="90.50" y1="311.50" x2="90.50" y2="314.00" stroke="#505050" stroke-width="1.0"/>
<text x="90.40" y="324.60" font-size="8.3" text-anchor="middle" fill="#231f20">1</text>
<line x1="133.50" y1="311.50" x2="133.50" y2="314.00" stroke="#505050" stroke-width="1.0"/>
<text x="133.30" y="324.60" font-size="8.3" text-anchor="middle" fill="#231f20">2</text>
<line x1="176.50" y1="311.50" x2="176.50" y2="314.00" stroke="#505050" stroke-width="1.0"/>
<text x="176.20" y="324.60" font-size="8.3" text-anchor="middle" fill="#231f20">3</text>
<line x1="219.50" y1="311.50" x2="219.50" y2="314.00" stroke="#505050" stroke-width="1.0"/>
<text x="219.10" y="324.60" font-size="8.3" text-anchor="middle" fill="#231f20">4</text>
<text x="132.00" y="334.80" font-size="8.4" text-anchor="middle" fill="#231f20" xml:space="preserve">Days post  treatment</text>
<text x="0.00" y="0.00" font-size="8.5" text-anchor="middle" fill="#231f20" transform="translate(26.20,255.50) rotate(-90)">Body Weight (g)</text>
<line x1="47.50" y1="252.22" x2="47.50" y2="279.58" stroke="#ff3a3a" stroke-width="0.6"/>
<line x1="45.70" y1="252.22" x2="49.30" y2="252.22" stroke="#ff3a3a" stroke-width="0.6"/>
<line x1="45.70" y1="279.58" x2="49.30" y2="279.58" stroke="#ff3a3a" stroke-width="0.6"/>
<line x1="90.40" y1="236.26" x2="90.40" y2="263.62" stroke="#ff3a3a" stroke-width="0.6"/>
<line x1="88.60" y1="236.26" x2="92.20" y2="236.26" stroke="#ff3a3a" stroke-width="0.6"/>
<line x1="88.60" y1="263.62" x2="92.20" y2="263.62" stroke="#ff3a3a" stroke-width="0.6"/>
<line x1="133.30" y1="235.12" x2="133.30" y2="275.02" stroke="#ff3a3a" stroke-width="0.6"/>
<line x1="131.50" y1="235.12" x2="135.10" y2="235.12" stroke="#ff3a3a" stroke-width="0.6"/>
<line x1="131.50" y1="275.02" x2="135.10" y2="275.02" stroke="#ff3a3a" stroke-width="0.6"/>
<line x1="176.20" y1="243.10" x2="176.20" y2="270.46" stroke="#ff3a3a" stroke-width="0.6"/>
<line x1="174.40" y1="243.10" x2="178.00" y2="243.10" stroke="#ff3a3a" stroke-width="0.6"/>
<line x1="174.40" y1="270.46" x2="178.00" y2="270.46" stroke="#ff3a3a" stroke-width="0.6"/>
<line x1="219.10" y1="236.26" x2="219.10" y2="277.30" stroke="#ff3a3a" stroke-width="0.6"/>
<line x1="217.30" y1="236.26" x2="220.90" y2="236.26" stroke="#ff3a3a" stroke-width="0.6"/>
<line x1="217.30" y1="277.30" x2="220.90" y2="277.30" stroke="#ff3a3a" stroke-width="0.6"/>
<line x1="47.50" y1="252.22" x2="47.50" y2="280.72" stroke="#5050ff" stroke-width="0.6"/>
<line x1="45.70" y1="252.22" x2="49.30" y2="252.22" stroke="#5050ff" stroke-width="0.6"/>
<line x1="45.70" y1="280.72" x2="49.30" y2="280.72" stroke="#5050ff" stroke-width="0.6"/>
<line x1="90.40" y1="232.84" x2="90.40" y2="263.62" stroke="#5050ff" stroke-width="0.6"/>
<line x1="88.60" y1="232.84" x2="92.20" y2="232.84" stroke="#5050ff" stroke-width="0.6"/>
<line x1="88.60" y1="263.62" x2="92.20" y2="263.62" stroke="#5050ff" stroke-width="0.6"/>
<line x1="133.30" y1="238.54" x2="133.30" y2="280.72" stroke="#5050ff" stroke-width="0.6"/>
<line x1="131.50" y1="238.54" x2="135.10" y2="238.54" stroke="#5050ff" stroke-width="0.6"/>
<line x1="131.50" y1="280.72" x2="135.10" y2="280.72" stroke="#5050ff" stroke-width="0.6"/>
<line x1="176.20" y1="236.26" x2="176.20" y2="283.00" stroke="#5050ff" stroke-width="0.6"/>
<line x1="174.40" y1="236.26" x2="178.00" y2="236.26" stroke="#5050ff" stroke-width="0.6"/>
<line x1="174.40" y1="283.00" x2="178.00" y2="283.00" stroke="#5050ff" stroke-width="0.6"/>
<line x1="219.10" y1="236.26" x2="219.10" y2="277.30" stroke="#5050ff" stroke-width="0.6"/>
<line x1="217.30" y1="236.26" x2="220.90" y2="236.26" stroke="#5050ff" stroke-width="0.6"/>
<line x1="217.30" y1="277.30" x2="220.90" y2="277.30" stroke="#5050ff" stroke-width="0.6"/>
<line x1="47.50" y1="233.98" x2="47.50" y2="279.58" stroke="#99195a" stroke-width="0.6"/>
<line x1="45.70" y1="233.98" x2="49.30" y2="233.98" stroke="#99195a" stroke-width="0.6"/>
<line x1="45.70" y1="279.58" x2="49.30" y2="279.58" stroke="#99195a" stroke-width="0.6"/>
<line x1="90.40" y1="232.84" x2="90.40" y2="270.46" stroke="#99195a" stroke-width="0.6"/>
<line x1="88.60" y1="232.84" x2="92.20" y2="232.84" stroke="#99195a" stroke-width="0.6"/>
<line x1="88.60" y1="270.46" x2="92.20" y2="270.46" stroke="#99195a" stroke-width="0.6"/>
<line x1="133.30" y1="232.84" x2="133.30" y2="277.30" stroke="#99195a" stroke-width="0.6"/>
<line x1="131.50" y1="232.84" x2="135.10" y2="232.84" stroke="#99195a" stroke-width="0.6"/>
<line x1="131.50" y1="277.30" x2="135.10" y2="277.30" stroke="#99195a" stroke-width="0.6"/>
<line x1="176.20" y1="241.96" x2="176.20" y2="270.46" stroke="#99195a" stroke-width="0.6"/>
<line x1="174.40" y1="241.96" x2="178.00" y2="241.96" stroke="#99195a" stroke-width="0.6"/>
<line x1="174.40" y1="270.46" x2="178.00" y2="270.46" stroke="#99195a" stroke-width="0.6"/>
<line x1="219.10" y1="236.26" x2="219.10" y2="277.30" stroke="#99195a" stroke-width="0.6"/>
<line x1="217.30" y1="236.26" x2="220.90" y2="236.26" stroke="#99195a" stroke-width="0.6"/>
<line x1="217.30" y1="277.30" x2="220.90" y2="277.30" stroke="#99195a" stroke-width="0.6"/>
<line x1="47.50" y1="233.98" x2="47.50" y2="270.46" stroke="#000" stroke-width="0.6"/>
<line x1="45.70" y1="233.98" x2="49.30" y2="233.98" stroke="#000" stroke-width="0.6"/>
<line x1="45.70" y1="270.46" x2="49.30" y2="270.46" stroke="#000" stroke-width="0.6"/>
<line x1="90.40" y1="215.74" x2="90.40" y2="284.14" stroke="#000" stroke-width="0.6"/>
<line x1="88.60" y1="215.74" x2="92.20" y2="215.74" stroke="#000" stroke-width="0.6"/>
<line x1="88.60" y1="284.14" x2="92.20" y2="284.14" stroke="#000" stroke-width="0.6"/>
<line x1="133.30" y1="231.70" x2="133.30" y2="280.49" stroke="#000" stroke-width="0.6"/>
<line x1="131.50" y1="231.70" x2="135.10" y2="231.70" stroke="#000" stroke-width="0.6"/>
<line x1="131.50" y1="280.49" x2="135.10" y2="280.49" stroke="#000" stroke-width="0.6"/>
<line x1="176.20" y1="243.10" x2="176.20" y2="281.86" stroke="#000" stroke-width="0.6"/>
<line x1="174.40" y1="243.10" x2="178.00" y2="243.10" stroke="#000" stroke-width="0.6"/>
<line x1="174.40" y1="281.86" x2="178.00" y2="281.86" stroke="#000" stroke-width="0.6"/>
<line x1="219.10" y1="236.26" x2="219.10" y2="275.02" stroke="#000" stroke-width="0.6"/>
<line x1="217.30" y1="236.26" x2="220.90" y2="236.26" stroke="#000" stroke-width="0.6"/>
<line x1="217.30" y1="275.02" x2="220.90" y2="275.02" stroke="#000" stroke-width="0.6"/>
<polyline points="47.50,266.36 90.40,248.12 133.30,250.62 176.20,251.99 219.10,250.85" fill="none" stroke="#ff3a3a" stroke-width="0.7"/>
<polyline points="47.50,263.16 90.40,248.80 133.30,260.20 176.20,259.52 219.10,255.64" fill="none" stroke="#5050ff" stroke-width="0.7"/>
<polyline points="47.50,256.32 90.40,251.76 133.30,256.32 176.20,257.24 219.10,256.78" fill="none" stroke="#99195a" stroke-width="0.7"/>
<polyline points="47.50,244.70 90.40,249.48 133.30,255.87 176.20,261.34 219.10,255.18" fill="none" stroke="#000" stroke-width="0.7"/>
<path d="M44.90,264.36 L50.10,264.36 L47.50,268.86 Z" fill="#ff3a3a" stroke="none" stroke-width="0.7"/>
<path d="M87.80,246.12 L93.00,246.12 L90.40,250.62 Z" fill="#ff3a3a" stroke="none" stroke-width="0.7"/>
<path d="M130.70,248.62 L135.90,248.62 L133.30,253.12 Z" fill="#ff3a3a" stroke="none" stroke-width="0.7"/>
<path d="M173.60,249.99 L178.80,249.99 L176.20,254.49 Z" fill="#ff3a3a" stroke="none" stroke-width="0.7"/>
<path d="M216.50,248.85 L221.70,248.85 L219.10,253.35 Z" fill="#ff3a3a" stroke="none" stroke-width="0.7"/>
<path d="M44.90,265.16 L50.10,265.16 L47.50,260.66 Z" fill="#5050ff" stroke="none" stroke-width="0.7"/>
<path d="M87.80,250.80 L93.00,250.80 L90.40,246.30 Z" fill="#5050ff" stroke="none" stroke-width="0.7"/>
<path d="M130.70,262.20 L135.90,262.20 L133.30,257.70 Z" fill="#5050ff" stroke="none" stroke-width="0.7"/>
<path d="M173.60,261.52 L178.80,261.52 L176.20,257.02 Z" fill="#5050ff" stroke="none" stroke-width="0.7"/>
<path d="M216.50,257.64 L221.70,257.64 L219.10,253.14 Z" fill="#5050ff" stroke="none" stroke-width="0.7"/>
<rect x="45.00" y="253.82" width="5.00" height="5.00" fill="#99195a" stroke="none" stroke-width="0.7"/>
<rect x="87.90" y="249.26" width="5.00" height="5.00" fill="#99195a" stroke="none" stroke-width="0.7"/>
<rect x="130.80" y="253.82" width="5.00" height="5.00" fill="#99195a" stroke="none" stroke-width="0.7"/>
<rect x="173.70" y="254.74" width="5.00" height="5.00" fill="#99195a" stroke="none" stroke-width="0.7"/>
<rect x="216.60" y="254.28" width="5.00" height="5.00" fill="#99195a" stroke="none" stroke-width="0.7"/>
<circle cx="47.50" cy="244.70" r="2.7" fill="#000"/>
<circle cx="90.40" cy="249.48" r="2.7" fill="#000"/>
<circle cx="133.30" cy="255.87" r="2.7" fill="#000"/>
<circle cx="176.20" cy="261.34" r="2.7" fill="#000"/>
<circle cx="219.10" cy="255.18" r="2.7" fill="#000"/>
<line x1="233.50" y1="196.60" x2="244.80" y2="196.60" stroke="#000" stroke-width="0.7"/>
<circle cx="239.20" cy="196.60" r="2.565" fill="#000"/>
<text x="246.10" y="199.50" font-size="8.5" text-anchor="start" fill="#231f20">Vehicle</text>
<line x1="233.50" y1="212.30" x2="244.80" y2="212.30" stroke="#99195a" stroke-width="0.7"/>
<rect x="236.82" y="209.93" width="4.75" height="4.75" fill="#99195a" stroke="none" stroke-width="0.7"/>
<text x="246.10" y="215.20" font-size="8.5" text-anchor="start" fill="#231f20">10 mg/kg</text>
<line x1="233.50" y1="227.60" x2="244.80" y2="227.60" stroke="#5050ff" stroke-width="0.7"/>
<path d="M236.73,229.50 L241.67,229.50 L239.20,225.22 Z" fill="#5050ff" stroke="none" stroke-width="0.7"/>
<text x="246.10" y="230.50" font-size="8.5" text-anchor="start" fill="#231f20">20 mg/kg</text>
<line x1="233.50" y1="242.50" x2="244.80" y2="242.50" stroke="#ff3a3a" stroke-width="0.7"/>
<path d="M236.73,240.60 L241.67,240.60 L239.20,244.88 Z" fill="#ff3a3a" stroke="none" stroke-width="0.7"/>
<text x="246.10" y="245.40" font-size="8.5" text-anchor="start" fill="#231f20">40 mg/kg</text>
<path d="M349.3,238.0 C349.1,235.1 349.3,231.2 350.0,228.0 C350.7,224.8 352.1,221.7 353.5,219.0 C354.9,216.3 356.6,214.0 358.5,212.0 C360.4,210.0 362.8,208.4 365.0,207.0 C367.2,205.6 369.3,204.5 372.0,203.3 C374.7,202.1 376.8,200.9 381.0,199.8 C385.2,198.7 392.4,197.2 397.5,196.5 C402.6,195.8 406.8,195.5 411.5,195.6 C416.2,195.7 421.0,196.2 425.8,197.3 C430.6,198.4 436.0,200.5 440.1,202.4 C444.2,204.3 447.3,205.9 450.4,208.5 C453.5,211.1 456.3,214.5 458.5,217.7 C460.7,220.9 462.6,224.5 463.6,227.9 C464.6,231.3 464.9,234.7 464.7,238.1 C464.5,241.5 463.8,245.3 462.6,248.4 C461.4,251.5 459.5,254.1 457.5,256.5 C455.5,258.9 453.3,261.2 450.4,262.7 C447.5,264.2 444.2,265.0 440.1,265.7 C436.0,266.4 429.9,267.0 425.8,266.7 C421.7,266.4 418.2,265.6 415.6,263.7 C413.1,261.8 411.9,257.7 410.5,255.5 C409.1,253.3 408.9,251.6 407.4,250.4 C405.9,249.2 403.7,248.4 401.3,248.4 C398.9,248.4 395.8,249.6 393.1,250.4 C390.4,251.2 387.7,252.0 385.0,253.0 C382.3,254.0 379.7,255.9 377.0,256.5 C374.3,257.1 371.7,257.0 369.0,256.8 C366.3,256.6 363.3,256.1 361.0,255.3 C358.7,254.5 356.7,253.8 355.0,252.2 C353.3,250.6 351.9,247.9 351.0,245.5 C350.1,243.1 349.5,240.9 349.3,238.0 Z" fill="#dfaee8" stroke="none" stroke-width="0.7" filter="url(#tex2)"/>
<path d="M402.0,246.8 C403.9,246.6 405.1,247.5 406.5,249.0 C407.9,250.5 409.4,253.7 410.5,256.0 C411.6,258.3 412.9,260.9 413.0,263.0 C413.1,265.1 414.0,267.4 411.0,268.5 C408.0,269.6 400.2,269.4 395.0,269.5 C389.8,269.6 383.8,269.6 380.0,269.0 C376.2,268.4 372.8,267.1 372.5,265.8 C372.2,264.6 375.6,263.2 378.0,261.5 C380.4,259.8 384.2,257.3 387.0,255.5 C389.8,253.7 392.5,251.9 395.0,250.5 C397.5,249.1 400.1,247.1 402.0,246.8 Z" fill="#f0e2f3" stroke="none" stroke-width="0.7"/>
<ellipse cx="375" cy="265.6" rx="2.6" ry="1.1" fill="#cf98dc"/>
<line x1="360.70" y1="222.60" x2="368.00" y2="222.20" stroke="#f6eef8" stroke-width="0.9"/>
<line x1="368.00" y1="222.60" x2="375.20" y2="223.40" stroke="#f6eef8" stroke-width="1.6"/>
<line x1="382.90" y1="217.20" x2="387.00" y2="217.20" stroke="#f6eef8" stroke-width="1.0"/>
<line x1="402.40" y1="216.30" x2="406.50" y2="218.60" stroke="#f6eef8" stroke-width="1.2"/>
<line x1="379.80" y1="233.60" x2="382.50" y2="235.40" stroke="#f6eef8" stroke-width="1.1"/>
<line x1="371.10" y1="239.50" x2="373.40" y2="243.10" stroke="#f6eef8" stroke-width="1.0"/>
<line x1="391.50" y1="225.20" x2="392.50" y2="225.60" stroke="#f6eef8" stroke-width="1.0"/>
<line x1="402.00" y1="229.50" x2="404.70" y2="230.40" stroke="#f6eef8" stroke-width="1.0"/>
<line x1="413.00" y1="213.50" x2="419.60" y2="216.20" stroke="#f6eef8" stroke-width="1.2"/>
<line x1="432.80" y1="236.10" x2="436.80" y2="237.40" stroke="#f6eef8" stroke-width="1.5"/>
<line x1="417.80" y1="245.10" x2="418.80" y2="245.60" stroke="#f6eef8" stroke-width="1.0"/>
<line x1="436.30" y1="213.50" x2="437.30" y2="215.50" stroke="#f6eef8" stroke-width="1.0"/>
<line x1="425.00" y1="226.00" x2="426.00" y2="226.50" stroke="#f6eef8" stroke-width="0.9"/>
<line x1="446.00" y1="232.00" x2="447.00" y2="233.00" stroke="#f6eef8" stroke-width="0.9"/>
<line x1="390.00" y1="244.00" x2="391.00" y2="245.00" stroke="#f6eef8" stroke-width="0.9"/>
<line x1="357.00" y1="246.00" x2="360.00" y2="248.00" stroke="#f6eef8" stroke-width="0.9"/>
<path d="M518.2,238.1 C518.0,234.0 518.7,228.2 520.2,223.8 C521.7,219.4 524.3,215.2 527.4,211.6 C530.5,208.0 534.4,205.0 538.6,202.4 C542.9,199.8 547.5,197.7 552.9,196.2 C558.3,194.7 565.5,193.9 571.3,193.6 C577.1,193.3 582.2,193.5 587.7,194.2 C593.2,194.9 598.9,196.0 604.0,197.7 C609.1,199.4 613.9,201.6 618.3,204.4 C622.7,207.2 627.5,211.0 630.6,214.6 C633.7,218.2 635.3,222.0 636.7,225.9 C638.1,229.8 638.6,234.0 638.8,238.1 C639.0,242.2 638.4,247.2 637.7,250.4 C637.0,253.7 635.9,255.6 634.7,257.6 C633.5,259.7 632.3,261.2 630.6,262.7 C628.9,264.2 627.5,265.8 624.4,266.7 C621.3,267.6 616.6,268.0 612.2,267.8 C607.8,267.6 601.5,266.7 597.9,265.7 C594.3,264.7 592.4,263.0 590.7,261.6 C589.0,260.2 590.3,258.0 587.7,257.6 C585.1,257.2 579.1,258.5 575.0,259.0 C570.9,259.5 566.1,259.8 563.1,260.6 C560.1,261.4 559.4,263.2 557.0,263.7 C554.6,264.2 551.9,264.2 548.8,263.7 C545.7,263.2 542.0,262.0 538.6,260.6 C535.2,259.2 531.3,257.5 528.4,255.5 C525.5,253.5 522.9,251.3 521.2,248.4 C519.5,245.5 518.4,242.2 518.2,238.1 Z" fill="#dfaee8" stroke="none" stroke-width="0.7" filter="url(#tex2)"/>
<path d="M559.0,250.0 C561.6,248.5 569.5,252.0 575.0,252.0 C580.5,252.0 588.8,249.0 592.0,250.0 C595.2,251.0 594.2,255.0 594.0,258.0 C593.8,261.0 594.0,266.0 591.0,268.0 C588.0,270.0 580.7,269.8 576.0,270.0 C571.3,270.2 565.8,270.5 563.0,269.0 C560.2,267.5 560.2,264.2 559.5,261.0 C558.8,257.8 556.4,251.5 559.0,250.0 Z" fill="#efe1f1" stroke="none" stroke-width="0.7"/>
<path d="M560.9,232.7 C564.1,231.1 572.8,228.3 578.1,229.0 C583.4,229.8 590.4,233.7 592.5,237.0 C594.7,240.2 592.8,245.4 591.1,248.5 C589.4,251.6 586.0,254.5 582.4,255.7 C578.8,256.9 573.1,256.9 569.5,255.7 C565.9,254.5 562.6,251.4 560.9,248.5 C559.1,245.6 558.8,241.0 558.8,238.4 C558.8,235.8 557.6,234.2 560.9,232.7 Z" fill="#f8f1f9" stroke="none" stroke-width="0.7"/>
<path d="M563.5,232.7 C566.4,231.3 574.4,228.8 579.2,229.4 C584.0,230.1 590.3,233.7 592.3,236.6 C594.3,239.5 592.5,244.3 591.0,247.1 C589.5,249.9 586.4,252.5 583.1,253.6 C579.8,254.7 574.7,254.7 571.4,253.6 C568.1,252.5 565.1,249.7 563.5,247.1 C561.9,244.5 561.6,240.3 561.6,237.9 C561.6,235.5 560.6,234.1 563.5,232.7 Z" fill="#e0c4e7" stroke="none" stroke-width="0.7"/>
<line x1="560.00" y1="241.00" x2="551.00" y2="250.50" stroke="#fbf6fb" stroke-width="1.3"/>
<line x1="556.00" y1="246.00" x2="553.00" y2="243.50" stroke="#fbf6fb" stroke-width="1.0"/>
<line x1="592.00" y1="238.00" x2="596.00" y2="237.00" stroke="#fbf6fb" stroke-width="1.2"/>
<path d="M561,210 L563.5,210 L564,222 L561.5,223 Z" fill="#fbf6fb" stroke="none" stroke-width="0.7"/>
<ellipse cx="636.5" cy="263.5" rx="2" ry="2.5" fill="#d4a0e0"/>
<line x1="620.00" y1="244.00" x2="624.00" y2="242.00" stroke="#fbf6fb" stroke-width="1.0"/>
<path d="M354.5,340.5 C354.6,337.9 354.6,334.2 355.4,331.1 C356.2,328.0 357.4,324.5 359.2,321.6 C360.9,318.8 363.2,316.1 365.9,314.0 C368.6,311.9 371.6,310.1 375.4,308.7 C379.2,307.3 383.6,306.2 388.7,305.4 C393.8,304.6 400.3,304.2 405.7,304.1 C411.1,304.0 416.1,304.1 420.9,304.5 C425.6,304.9 430.1,305.7 434.2,306.8 C438.3,307.9 442.1,309.1 445.6,311.1 C449.1,313.1 452.4,315.7 455.1,318.7 C457.8,321.7 460.1,325.6 461.7,329.2 C463.3,332.8 464.3,336.7 464.6,340.5 C464.9,344.3 464.4,348.7 463.6,351.9 C462.8,355.1 461.1,357.0 459.8,359.5 C458.5,362.0 457.7,364.8 456.0,367.0 C454.3,369.2 451.5,370.9 449.5,372.5 C447.5,374.1 444.6,377.0 444.2,376.5 C443.8,376.0 446.2,371.2 447.0,369.5 C447.8,367.8 450.4,366.6 449.2,366.2 C448.0,365.8 443.0,366.1 440.0,367.0 C437.0,367.9 434.6,370.0 431.0,371.7 C427.4,373.4 422.5,376.1 418.4,377.3 C414.3,378.5 407.6,379.1 406.3,379.0 C405.0,378.9 409.7,377.7 410.7,376.7 C411.7,375.7 412.5,374.0 412.3,372.8 C412.1,371.6 411.3,370.7 409.6,369.6 C407.9,368.5 404.4,367.1 402.0,366.3 C399.6,365.5 397.6,364.8 395.4,364.6 C393.2,364.4 391.4,364.7 388.8,365.0 C386.2,365.3 382.6,365.6 380.0,366.3 C377.4,367.0 375.7,368.4 373.5,369.0 C371.3,369.6 368.9,370.4 366.9,369.8 C364.9,369.2 363.0,367.4 361.4,365.2 C359.8,363.0 358.1,359.4 357.0,356.4 C355.9,353.4 354.9,349.6 354.5,347.0 C354.1,344.4 354.4,343.1 354.5,340.5 Z" fill="#e6bdec" stroke="none" stroke-width="0.7" filter="url(#tex2)"/>
<line x1="371.20" y1="332.30" x2="375.00" y2="351.30" stroke="#fbf4fb" stroke-width="1.5"/>
<line x1="390.20" y1="334.80" x2="387.70" y2="357.70" stroke="#fbf4fb" stroke-width="1.6"/>
<line x1="406.70" y1="336.10" x2="416.90" y2="327.20" stroke="#fbf4fb" stroke-width="1.3"/>
<line x1="430.90" y1="332.30" x2="427.10" y2="342.40" stroke="#fbf4fb" stroke-width="1.5"/>
<line x1="397.80" y1="320.80" x2="400.40" y2="323.40" stroke="#fbf4fb" stroke-width="1.2"/>
<line x1="362.30" y1="339.90" x2="367.30" y2="345.00" stroke="#fbf4fb" stroke-width="0.9"/>
<line x1="385.00" y1="316.00" x2="386.00" y2="318.00" stroke="#fbf4fb" stroke-width="1"/>
<line x1="440.00" y1="350.00" x2="442.00" y2="352.00" stroke="#fbf4fb" stroke-width="0.9"/>
<path d="M505.3,347.9 C505.6,344.4 506.0,339.1 507.4,335.2 C508.8,331.3 511.1,327.6 513.8,324.6 C516.4,321.6 519.2,319.2 523.3,317.2 C527.3,315.2 532.8,313.6 538.1,312.4 C543.4,311.2 549.7,310.6 555.0,310.2 C560.3,309.8 565.3,310.4 569.9,310.2 C574.5,310.0 578.0,309.0 582.6,308.8 C587.2,308.6 592.5,308.3 597.4,308.8 C602.3,309.3 607.6,310.3 612.2,311.9 C616.8,313.5 621.4,315.5 624.9,318.3 C628.4,321.1 631.3,325.0 633.4,328.9 C635.5,332.8 636.9,337.0 637.6,341.6 C638.3,346.2 638.0,352.2 637.6,356.4 C637.2,360.6 636.6,364.0 635.5,367.0 C634.4,370.0 633.7,372.8 631.2,374.4 C628.7,376.0 626.7,376.3 620.7,376.5 C614.7,376.7 603.1,375.6 595.3,375.4 C587.5,375.1 581.2,375.0 574.1,375.0 C567.0,375.0 557.8,375.0 552.9,375.4 C548.0,375.8 546.3,376.5 544.5,377.6 C542.7,378.7 543.7,381.1 542.3,381.8 C540.9,382.5 538.1,382.0 536.0,381.8 C533.9,381.6 532.1,381.4 529.6,380.7 C527.1,380.0 523.8,378.8 521.2,377.6 C518.6,376.4 515.9,375.4 513.8,373.3 C511.7,371.2 509.8,367.7 508.5,364.9 C507.2,362.1 506.4,359.2 505.9,356.4 C505.4,353.6 505.1,351.4 505.3,347.9 Z" fill="#e6bdec" stroke="none" stroke-width="0.7" filter="url(#tex2)"/>
<path d="M535.3,336.5 L536.9,336.5 L538.3,352 L539.5,357.5 L545.2,360.5 L556.8,346 L558.3,347 L548.5,361.5 L562,361.3 L562.2,363.3 L546.5,365.5 L541.5,369.5 L540.5,376 L544,383 L535,383 L535.6,374 L533,363.5 L530.8,357.3 L536,356.8 Z" fill="#fdf8fd" stroke="none" stroke-width="0.7"/>
<line x1="578.30" y1="351.40" x2="589.90" y2="339.00" stroke="#fdf8fd" stroke-width="1.4"/>
<rect x="440.20" y="174.70" width="55.60" height="31.90" fill="#dbb0e6" stroke="none" stroke-width="0.7" filter="url(#tex)"/>
<rect x="610.00" y="174.80" width="56.00" height="32.20" fill="#dbb0e6" stroke="none" stroke-width="0.7" filter="url(#tex)"/>
<rect x="439.60" y="280.20" width="56.00" height="33.00" fill="#e2bcec" stroke="none" stroke-width="0.7" filter="url(#tex)"/>
<rect x="610.00" y="277.30" width="55.40" height="35.00" fill="#e2bcec" stroke="none" stroke-width="0.7" filter="url(#tex)"/>
<path d="M487,188 L495.8,186 L495.8,204.6 L489,204 L487,197 Z" fill="#fbf6fb" stroke="none" stroke-width="0.7"/>
<circle cx="481.8" cy="282.9" r="1.5" fill="#fbf6fb"/>
<circle cx="487.9" cy="304.9" r="1.3" fill="#fbf6fb"/>
<circle cx="625.2" cy="291.2" r="1.0" fill="#fbf6fb"/>
<circle cx="651.3" cy="300.5" r="1.2" fill="#fbf6fb"/>
<circle cx="629.8" cy="277.8" r="0.8" fill="#fbf6fb"/>
<path d="M647.6,277.3 L649.8,277.3 L649.2,282.5 L648.4,282.5 Z" fill="#fbf6fb" stroke="none" stroke-width="0.7"/>
<rect x="425.00" y="209.90" width="13.70" height="7.80" fill="none" stroke="#e8303a" stroke-width="0.8"/>
<line x1="425.00" y1="209.90" x2="440.20" y2="174.70" stroke="#e8303a" stroke-width="0.8" stroke-dasharray="1.4,1.2"/>
<line x1="438.70" y1="217.70" x2="495.80" y2="206.60" stroke="#e8303a" stroke-width="0.8" stroke-dasharray="1.4,1.2"/>
<rect x="598.90" y="213.60" width="14.00" height="7.90" fill="none" stroke="#e8303a" stroke-width="0.8"/>
<line x1="598.90" y1="213.60" x2="610.00" y2="174.80" stroke="#e8303a" stroke-width="0.8" stroke-dasharray="1.4,1.2"/>
<line x1="612.90" y1="221.50" x2="666.00" y2="207.00" stroke="#e8303a" stroke-width="0.8" stroke-dasharray="1.4,1.2"/>
<rect x="430.50" y="312.30" width="8.20" height="4.40" fill="none" stroke="#e8303a" stroke-width="0.8"/>
<line x1="430.50" y1="312.30" x2="439.60" y2="280.20" stroke="#e8303a" stroke-width="0.8" stroke-dasharray="1.4,1.2"/>
<line x1="438.70" y1="316.70" x2="495.60" y2="313.20" stroke="#e8303a" stroke-width="0.8" stroke-dasharray="1.4,1.2"/>
<rect x="601.20" y="317.60" width="9.90" height="5.80" fill="none" stroke="#e8303a" stroke-width="0.8"/>
<line x1="601.20" y1="317.60" x2="610.00" y2="277.30" stroke="#e8303a" stroke-width="0.8" stroke-dasharray="1.4,1.2"/>
<line x1="611.10" y1="323.40" x2="665.40" y2="312.30" stroke="#e8303a" stroke-width="0.8" stroke-dasharray="1.4,1.2"/>
<text x="319.90" y="236.10" font-size="8.7" text-anchor="start" fill="#231f20">Kidney</text>
<text x="327.70" y="344.50" font-size="8.5" text-anchor="start" fill="#231f20">Liver</text>
<text x="389.10" y="395.40" font-size="8.3" text-anchor="start" fill="#231f20">Vehicle</text>
<text x="540.20" y="395.40" font-size="8.5" text-anchor="start" fill="#231f20">CPTH<tspan font-size="0.62em" dy="0.05em">2</tspan> 40 mg/kg</text>
<text x="352.00" y="259.40" font-size="7.1" text-anchor="start" fill="#231f20">500 μm</text>
<line x1="361.20" y1="261.60" x2="368.80" y2="261.60" stroke="#333" stroke-width="0.9"/>
<text x="516.50" y="260.40" font-size="7.1" text-anchor="start" fill="#231f20">500 μm</text>
<line x1="525.70" y1="262.60" x2="533.30" y2="262.60" stroke="#333" stroke-width="0.9"/>
<text x="352.00" y="375.10" font-size="7.1" text-anchor="start" fill="#231f20">500 μm</text>
<line x1="361.20" y1="377.30" x2="368.80" y2="377.30" stroke="#333" stroke-width="0.9"/>
<text x="517.70" y="374.50" font-size="7.1" text-anchor="start" fill="#231f20">500 μm</text>
<line x1="526.90" y1="376.70" x2="534.50" y2="376.70" stroke="#333" stroke-width="0.9"/>
<text x="440.70" y="201.60" font-size="6.9" text-anchor="start" fill="#231f20">100 μm</text>
<line x1="448.60" y1="203.80" x2="457.00" y2="203.80" stroke="#333" stroke-width="0.9"/>
<text x="611.10" y="202.00" font-size="6.9" text-anchor="start" fill="#231f20">100 μm</text>
<line x1="619.00" y1="204.20" x2="627.40" y2="204.20" stroke="#333" stroke-width="0.9"/>
<text x="440.10" y="308.00" font-size="6.9" text-anchor="start" fill="#231f20">100 μm</text>
<line x1="448.00" y1="310.20" x2="456.40" y2="310.20" stroke="#333" stroke-width="0.9"/>
<text x="611.10" y="308.00" font-size="6.9" text-anchor="start" fill="#231f20">100 μm</text>
<line x1="619.00" y1="310.20" x2="627.40" y2="310.20" stroke="#333" stroke-width="0.9"/>
<rect x="47.50" y="471.50" width="14.00" height="46.00" fill="#c7dcf5" stroke="#7a7a7a" stroke-width="1.0"/>
<rect x="68.50" y="467.50" width="14.00" height="50.00" fill="#ac7bc2" stroke="#7a7a7a" stroke-width="1.0"/>
<rect x="89.50" y="475.50" width="14.00" height="42.00" fill="#ff7a80" stroke="#7a7a7a" stroke-width="1.0"/>
<rect x="110.50" y="469.50" width="14.00" height="48.00" fill="#ffa040" stroke="#7a7a7a" stroke-width="1.0"/>
<line x1="54.85" y1="469.18" x2="54.85" y2="474.24" stroke="#000" stroke-width="0.7"/>
<line x1="52.25" y1="469.18" x2="57.45" y2="469.18" stroke="#000" stroke-width="0.7"/>
<line x1="52.25" y1="474.24" x2="57.45" y2="474.24" stroke="#000" stroke-width="0.7"/>
<circle cx="52.85" cy="469.74" r="1.25" fill="#000"/>
<circle cx="56.85" cy="469.74" r="1.25" fill="#000"/>
<circle cx="52.85" cy="474.24" r="1.25" fill="#000"/>
<circle cx="56.35" cy="473.67" r="1.25" fill="#000"/>
<line x1="75.65" y1="460.19" x2="75.65" y2="474.80" stroke="#000" stroke-width="0.7"/>
<line x1="73.05" y1="460.19" x2="78.25" y2="460.19" stroke="#000" stroke-width="0.7"/>
<line x1="73.05" y1="474.80" x2="78.25" y2="474.80" stroke="#000" stroke-width="0.7"/>
<circle cx="75.65" cy="459.06" r="1.25" fill="#000"/>
<circle cx="75.65" cy="464.68" r="1.25" fill="#000"/>
<circle cx="75.65" cy="472.55" r="1.25" fill="#000"/>
<circle cx="75.65" cy="468.06" r="1.25" fill="#000"/>
<line x1="96.35" y1="474.24" x2="96.35" y2="476.48" stroke="#000" stroke-width="0.7"/>
<line x1="93.75" y1="474.24" x2="98.95" y2="474.24" stroke="#000" stroke-width="0.7"/>
<line x1="93.75" y1="476.48" x2="98.95" y2="476.48" stroke="#000" stroke-width="0.7"/>
<circle cx="94.35" cy="476.48" r="1.25" fill="#000"/>
<circle cx="96.35" cy="474.80" r="1.25" fill="#000"/>
<circle cx="98.35" cy="475.92" r="1.25" fill="#000"/>
<circle cx="97.35" cy="474.24" r="1.25" fill="#000"/>
<line x1="117.60" y1="454.57" x2="117.60" y2="483.79" stroke="#000" stroke-width="0.7"/>
<line x1="115.00" y1="454.57" x2="120.20" y2="454.57" stroke="#000" stroke-width="0.7"/>
<line x1="115.00" y1="483.79" x2="120.20" y2="483.79" stroke="#000" stroke-width="0.7"/>
<circle cx="117.60" cy="447.83" r="1.25" fill="#000"/>
<circle cx="117.60" cy="470.86" r="1.25" fill="#000"/>
<circle cx="117.60" cy="474.24" r="1.25" fill="#000"/>
<circle cx="117.60" cy="483.79" r="1.25" fill="#000"/>
<line x1="40.50" y1="427.50" x2="40.50" y2="517.50" stroke="#a8a8a8" stroke-width="1.0"/>
<line x1="40.00" y1="517.80" x2="131.80" y2="517.80" stroke="#a8a8a8" stroke-width="1.2"/>
<line x1="37.50" y1="517.50" x2="40.50" y2="517.50" stroke="#a8a8a8" stroke-width="1.0"/>
<text x="36.20" y="520.40" font-size="8.3" text-anchor="end" fill="#231f20">0</text>
<line x1="37.50" y1="495.50" x2="40.50" y2="495.50" stroke="#a8a8a8" stroke-width="1.0"/>
<text x="36.20" y="497.92" font-size="8.3" text-anchor="end" fill="#231f20">20</text>
<line x1="37.50" y1="472.50" x2="40.50" y2="472.50" stroke="#a8a8a8" stroke-width="1.0"/>
<text x="36.20" y="475.45" font-size="8.3" text-anchor="end" fill="#231f20">40</text>
<line x1="37.50" y1="450.50" x2="40.50" y2="450.50" stroke="#a8a8a8" stroke-width="1.0"/>
<text x="36.20" y="452.98" font-size="8.3" text-anchor="end" fill="#231f20">60</text>
<line x1="37.50" y1="427.50" x2="40.50" y2="427.50" stroke="#a8a8a8" stroke-width="1.0"/>
<text x="36.20" y="430.50" font-size="8.3" text-anchor="end" fill="#231f20">80</text>
<line x1="54.50" y1="517.50" x2="54.50" y2="520.50" stroke="#a8a8a8" stroke-width="1.0"/>
<line x1="75.50" y1="517.50" x2="75.50" y2="520.50" stroke="#a8a8a8" stroke-width="1.0"/>
<line x1="96.50" y1="517.50" x2="96.50" y2="520.50" stroke="#a8a8a8" stroke-width="1.0"/>
<line x1="117.50" y1="517.50" x2="117.50" y2="520.50" stroke="#a8a8a8" stroke-width="1.0"/>
<text x="0.00" y="0.00" font-size="8.5" text-anchor="end" fill="#231f20" transform="translate(58.45,524.50) rotate(-45)">Vehicle</text>
<text x="0.00" y="0.00" font-size="8.5" text-anchor="end" fill="#231f20" transform="translate(79.25,524.50) rotate(-45)">10 mg/kg</text>
<text x="0.00" y="0.00" font-size="8.5" text-anchor="end" fill="#231f20" transform="translate(99.95,524.50) rotate(-45)">20 mg/kg</text>
<text x="0.00" y="0.00" font-size="8.5" text-anchor="end" fill="#231f20" transform="translate(121.20,524.50) rotate(-45)">40 mg/kg</text>
<text x="0.00" y="0.00" font-size="8.5" text-anchor="middle" fill="#231f20" transform="translate(24.20,472.30) rotate(-90)">ALT (U/L)</text>
<line x1="54.70" y1="431.40" x2="97.80" y2="431.40" stroke="#4a4a4a" stroke-width="0.8"/>
<line x1="54.70" y1="431.40" x2="54.70" y2="468.70" stroke="#4a4a4a" stroke-width="0.8"/>
<line x1="97.80" y1="431.40" x2="97.80" y2="438.90" stroke="#4a4a4a" stroke-width="0.8"/>
<line x1="74.50" y1="438.90" x2="117.60" y2="438.90" stroke="#999" stroke-width="0.9"/>
<text x="76.25" y="427.90" font-size="8.3" text-anchor="middle" fill="#231f20">ns</text>
<rect x="176.50" y="494.50" width="14.00" height="23.00" fill="#c7dcf5" stroke="#7a7a7a" stroke-width="1.0"/>
<rect x="197.50" y="494.50" width="14.00" height="23.00" fill="#ac7bc2" stroke="#7a7a7a" stroke-width="1.0"/>
<rect x="218.50" y="495.50" width="14.00" height="22.00" fill="#ff7a80" stroke="#7a7a7a" stroke-width="1.0"/>
<rect x="239.50" y="478.50" width="14.00" height="39.00" fill="#ffa040" stroke="#7a7a7a" stroke-width="1.0"/>
<line x1="183.75" y1="490.62" x2="183.75" y2="499.58" stroke="#000" stroke-width="0.7"/>
<line x1="181.15" y1="490.62" x2="186.35" y2="490.62" stroke="#000" stroke-width="0.7"/>
<line x1="181.15" y1="499.58" x2="186.35" y2="499.58" stroke="#000" stroke-width="0.7"/>
<circle cx="181.75" cy="491.52" r="1.25" fill="#000"/>
<circle cx="185.75" cy="491.52" r="1.25" fill="#000"/>
<circle cx="183.75" cy="496.00" r="1.25" fill="#000"/>
<circle cx="183.75" cy="499.58" r="1.25" fill="#000"/>
<line x1="204.60" y1="489.72" x2="204.60" y2="499.58" stroke="#000" stroke-width="0.7"/>
<line x1="202.00" y1="489.72" x2="207.20" y2="489.72" stroke="#000" stroke-width="0.7"/>
<line x1="202.00" y1="499.58" x2="207.20" y2="499.58" stroke="#000" stroke-width="0.7"/>
<circle cx="202.60" cy="490.62" r="1.25" fill="#000"/>
<circle cx="206.60" cy="490.62" r="1.25" fill="#000"/>
<circle cx="204.60" cy="496.00" r="1.25" fill="#000"/>
<circle cx="204.60" cy="499.58" r="1.25" fill="#000"/>
<line x1="225.35" y1="492.41" x2="225.35" y2="499.58" stroke="#000" stroke-width="0.7"/>
<line x1="222.75" y1="492.41" x2="227.95" y2="492.41" stroke="#000" stroke-width="0.7"/>
<line x1="222.75" y1="499.58" x2="227.95" y2="499.58" stroke="#000" stroke-width="0.7"/>
<circle cx="223.35" cy="494.20" r="1.25" fill="#000"/>
<circle cx="227.35" cy="494.20" r="1.25" fill="#000"/>
<circle cx="225.35" cy="496.89" r="1.25" fill="#000"/>
<circle cx="225.35" cy="498.68" r="1.25" fill="#000"/>
<line x1="246.55" y1="453.88" x2="246.55" y2="502.27" stroke="#000" stroke-width="0.7"/>
<line x1="243.95" y1="453.88" x2="249.15" y2="453.88" stroke="#000" stroke-width="0.7"/>
<line x1="243.95" y1="502.27" x2="249.15" y2="502.27" stroke="#000" stroke-width="0.7"/>
<circle cx="246.55" cy="443.13" r="1.25" fill="#000"/>
<circle cx="246.55" cy="480.76" r="1.25" fill="#000"/>
<circle cx="246.55" cy="491.52" r="1.25" fill="#000"/>
<circle cx="246.55" cy="496.00" r="1.25" fill="#000"/>
<line x1="169.50" y1="427.50" x2="169.50" y2="517.50" stroke="#a8a8a8" stroke-width="1.0"/>
<line x1="169.00" y1="517.80" x2="260.50" y2="517.80" stroke="#a8a8a8" stroke-width="1.2"/>
<line x1="166.50" y1="517.50" x2="169.50" y2="517.50" stroke="#a8a8a8" stroke-width="1.0"/>
<text x="165.20" y="520.40" font-size="8.3" text-anchor="end" fill="#231f20">0</text>
<line x1="166.50" y1="499.50" x2="169.50" y2="499.50" stroke="#a8a8a8" stroke-width="1.0"/>
<text x="165.20" y="502.48" font-size="8.3" text-anchor="end" fill="#231f20">100</text>
<line x1="166.50" y1="481.50" x2="169.50" y2="481.50" stroke="#a8a8a8" stroke-width="1.0"/>
<text x="165.20" y="484.56" font-size="8.3" text-anchor="end" fill="#231f20">200</text>
<line x1="166.50" y1="463.50" x2="169.50" y2="463.50" stroke="#a8a8a8" stroke-width="1.0"/>
<text x="165.20" y="466.64" font-size="8.3" text-anchor="end" fill="#231f20">300</text>
<line x1="166.50" y1="445.50" x2="169.50" y2="445.50" stroke="#a8a8a8" stroke-width="1.0"/>
<text x="165.20" y="448.72" font-size="8.3" text-anchor="end" fill="#231f20">400</text>
<line x1="166.50" y1="427.50" x2="169.50" y2="427.50" stroke="#a8a8a8" stroke-width="1.0"/>
<text x="165.20" y="430.80" font-size="8.3" text-anchor="end" fill="#231f20">500</text>
<line x1="183.50" y1="517.50" x2="183.50" y2="520.50" stroke="#a8a8a8" stroke-width="1.0"/>
<line x1="204.50" y1="517.50" x2="204.50" y2="520.50" stroke="#a8a8a8" stroke-width="1.0"/>
<line x1="225.50" y1="517.50" x2="225.50" y2="520.50" stroke="#a8a8a8" stroke-width="1.0"/>
<line x1="246.50" y1="517.50" x2="246.50" y2="520.50" stroke="#a8a8a8" stroke-width="1.0"/>
<text x="0.00" y="0.00" font-size="8.5" text-anchor="end" fill="#231f20" transform="translate(187.35,524.50) rotate(-45)">Vehicle</text>
<text x="0.00" y="0.00" font-size="8.5" text-anchor="end" fill="#231f20" transform="translate(208.20,524.50) rotate(-45)">10 mg/kg</text>
<text x="0.00" y="0.00" font-size="8.5" text-anchor="end" fill="#231f20" transform="translate(228.95,524.50) rotate(-45)">20 mg/kg</text>
<text x="0.00" y="0.00" font-size="8.5" text-anchor="end" fill="#231f20" transform="translate(250.15,524.50) rotate(-45)">40 mg/kg</text>
<text x="0.00" y="0.00" font-size="8.5" text-anchor="middle" fill="#231f20" transform="translate(145.60,472.30) rotate(-90)">AST (U/L)</text>
<line x1="183.20" y1="428.10" x2="225.50" y2="428.10" stroke="#4a4a4a" stroke-width="0.8"/>
<line x1="183.20" y1="428.10" x2="183.20" y2="490.00" stroke="#4a4a4a" stroke-width="0.8"/>
<line x1="225.50" y1="428.10" x2="225.50" y2="436.40" stroke="#4a4a4a" stroke-width="0.8"/>
<line x1="204.70" y1="436.40" x2="247.00" y2="436.40" stroke="#999" stroke-width="0.9"/>
<text x="204.95" y="424.80" font-size="8.3" text-anchor="middle" fill="#231f20">ns</text>
<rect x="300.50" y="451.50" width="14.00" height="66.00" fill="#c7dcf5" stroke="#7a7a7a" stroke-width="1.0"/>
<rect x="321.50" y="445.50" width="14.00" height="72.00" fill="#ac7bc2" stroke="#7a7a7a" stroke-width="1.0"/>
<rect x="342.50" y="453.50" width="14.00" height="64.00" fill="#ff7a80" stroke="#7a7a7a" stroke-width="1.0"/>
<rect x="363.50" y="455.50" width="14.00" height="62.00" fill="#ffa040" stroke="#7a7a7a" stroke-width="1.0"/>
<line x1="307.25" y1="443.62" x2="307.25" y2="458.03" stroke="#000" stroke-width="0.7"/>
<line x1="304.65" y1="443.62" x2="309.85" y2="443.62" stroke="#000" stroke-width="0.7"/>
<line x1="304.65" y1="458.03" x2="309.85" y2="458.03" stroke="#000" stroke-width="0.7"/>
<circle cx="307.25" cy="445.42" r="1.25" fill="#000"/>
<circle cx="307.25" cy="451.43" r="1.25" fill="#000"/>
<circle cx="307.25" cy="460.44" r="1.25" fill="#000"/>
<line x1="328.20" y1="438.81" x2="328.20" y2="452.03" stroke="#000" stroke-width="0.7"/>
<line x1="325.60" y1="438.81" x2="330.80" y2="438.81" stroke="#000" stroke-width="0.7"/>
<line x1="325.60" y1="452.03" x2="330.80" y2="452.03" stroke="#000" stroke-width="0.7"/>
<circle cx="326.20" cy="442.42" r="1.25" fill="#000"/>
<circle cx="330.20" cy="442.42" r="1.25" fill="#000"/>
<circle cx="328.20" cy="448.42" r="1.25" fill="#000"/>
<circle cx="328.20" cy="455.93" r="1.25" fill="#000"/>
<line x1="349.20" y1="446.62" x2="349.20" y2="461.34" stroke="#000" stroke-width="0.7"/>
<line x1="346.60" y1="446.62" x2="351.80" y2="446.62" stroke="#000" stroke-width="0.7"/>
<line x1="346.60" y1="461.34" x2="351.80" y2="461.34" stroke="#000" stroke-width="0.7"/>
<circle cx="349.20" cy="445.42" r="1.25" fill="#000"/>
<circle cx="349.20" cy="454.43" r="1.25" fill="#000"/>
<circle cx="349.20" cy="461.94" r="1.25" fill="#000"/>
<line x1="370.05" y1="450.53" x2="370.05" y2="461.04" stroke="#000" stroke-width="0.7"/>
<line x1="367.45" y1="450.53" x2="372.65" y2="450.53" stroke="#000" stroke-width="0.7"/>
<line x1="367.45" y1="461.04" x2="372.65" y2="461.04" stroke="#000" stroke-width="0.7"/>
<circle cx="370.05" cy="449.92" r="1.25" fill="#000"/>
<circle cx="368.55" cy="458.94" r="1.25" fill="#000"/>
<circle cx="371.55" cy="458.94" r="1.25" fill="#000"/>
<circle cx="370.05" cy="454.43" r="1.25" fill="#000"/>
<line x1="293.50" y1="427.50" x2="293.50" y2="517.50" stroke="#a8a8a8" stroke-width="1.0"/>
<line x1="293.00" y1="517.80" x2="384.10" y2="517.80" stroke="#a8a8a8" stroke-width="1.2"/>
<line x1="290.50" y1="517.50" x2="293.50" y2="517.50" stroke="#a8a8a8" stroke-width="1.0"/>
<text x="289.20" y="520.40" font-size="8.3" text-anchor="end" fill="#231f20">0</text>
<line x1="290.50" y1="487.50" x2="293.50" y2="487.50" stroke="#a8a8a8" stroke-width="1.0"/>
<text x="289.20" y="490.37" font-size="8.3" text-anchor="end" fill="#231f20">10</text>
<line x1="290.50" y1="457.50" x2="293.50" y2="457.50" stroke="#a8a8a8" stroke-width="1.0"/>
<text x="289.20" y="460.33" font-size="8.3" text-anchor="end" fill="#231f20">20</text>
<line x1="290.50" y1="427.50" x2="293.50" y2="427.50" stroke="#a8a8a8" stroke-width="1.0"/>
<text x="289.20" y="430.30" font-size="8.3" text-anchor="end" fill="#231f20">30</text>
<line x1="307.50" y1="517.50" x2="307.50" y2="520.50" stroke="#a8a8a8" stroke-width="1.0"/>
<line x1="328.50" y1="517.50" x2="328.50" y2="520.50" stroke="#a8a8a8" stroke-width="1.0"/>
<line x1="349.50" y1="517.50" x2="349.50" y2="520.50" stroke="#a8a8a8" stroke-width="1.0"/>
<line x1="370.50" y1="517.50" x2="370.50" y2="520.50" stroke="#a8a8a8" stroke-width="1.0"/>
<text x="0.00" y="0.00" font-size="8.5" text-anchor="end" fill="#231f20" transform="translate(310.85,524.50) rotate(-45)">Vehicle</text>
<text x="0.00" y="0.00" font-size="8.5" text-anchor="end" fill="#231f20" transform="translate(331.80,524.50) rotate(-45)">10 mg/kg</text>
<text x="0.00" y="0.00" font-size="8.5" text-anchor="end" fill="#231f20" transform="translate(352.80,524.50) rotate(-45)">20 mg/kg</text>
<text x="0.00" y="0.00" font-size="8.5" text-anchor="end" fill="#231f20" transform="translate(373.65,524.50) rotate(-45)">40 mg/kg</text>
<text x="0.00" y="0.00" font-size="8.5" text-anchor="middle" fill="#231f20" transform="translate(273.60,472.30) rotate(-90)">CREA (μM/L)</text>
<line x1="306.80" y1="423.50" x2="349.60" y2="423.50" stroke="#4a4a4a" stroke-width="0.8"/>
<line x1="306.80" y1="423.50" x2="306.80" y2="440.00" stroke="#4a4a4a" stroke-width="0.8"/>
<line x1="349.60" y1="423.50" x2="349.60" y2="435.10" stroke="#4a4a4a" stroke-width="0.8"/>
<line x1="327.80" y1="435.10" x2="370.60" y2="435.10" stroke="#999" stroke-width="0.9"/>
<text x="327.40" y="420.80" font-size="8.3" text-anchor="middle" fill="#231f20">ns</text>
<rect x="424.50" y="465.50" width="14.00" height="52.00" fill="#c7dcf5" stroke="#7a7a7a" stroke-width="1.0"/>
<rect x="445.50" y="454.50" width="14.00" height="63.00" fill="#ac7bc2" stroke="#7a7a7a" stroke-width="1.0"/>
<rect x="466.50" y="465.50" width="14.00" height="52.00" fill="#ff7a80" stroke="#7a7a7a" stroke-width="1.0"/>
<rect x="487.50" y="472.50" width="14.00" height="45.00" fill="#ffa040" stroke="#7a7a7a" stroke-width="1.0"/>
<line x1="431.60" y1="457.02" x2="431.60" y2="475.50" stroke="#000" stroke-width="0.7"/>
<line x1="429.00" y1="457.02" x2="434.20" y2="457.02" stroke="#000" stroke-width="0.7"/>
<line x1="429.00" y1="475.50" x2="434.20" y2="475.50" stroke="#000" stroke-width="0.7"/>
<circle cx="431.60" cy="457.02" r="1.25" fill="#000"/>
<circle cx="431.60" cy="463.74" r="1.25" fill="#000"/>
<circle cx="431.60" cy="470.46" r="1.25" fill="#000"/>
<circle cx="431.60" cy="477.18" r="1.25" fill="#000"/>
<line x1="452.55" y1="446.94" x2="452.55" y2="463.18" stroke="#000" stroke-width="0.7"/>
<line x1="449.95" y1="446.94" x2="455.15" y2="446.94" stroke="#000" stroke-width="0.7"/>
<line x1="449.95" y1="463.18" x2="455.15" y2="463.18" stroke="#000" stroke-width="0.7"/>
<circle cx="452.55" cy="446.94" r="1.25" fill="#000"/>
<circle cx="452.55" cy="451.42" r="1.25" fill="#000"/>
<circle cx="452.55" cy="458.14" r="1.25" fill="#000"/>
<circle cx="452.55" cy="466.54" r="1.25" fill="#000"/>
<line x1="473.35" y1="454.78" x2="473.35" y2="475.50" stroke="#000" stroke-width="0.7"/>
<line x1="470.75" y1="454.78" x2="475.95" y2="454.78" stroke="#000" stroke-width="0.7"/>
<line x1="470.75" y1="475.50" x2="475.95" y2="475.50" stroke="#000" stroke-width="0.7"/>
<circle cx="471.35" cy="454.78" r="1.25" fill="#000"/>
<circle cx="475.35" cy="454.78" r="1.25" fill="#000"/>
<circle cx="471.85" cy="475.50" r="1.25" fill="#000"/>
<circle cx="474.85" cy="475.50" r="1.25" fill="#000"/>
<line x1="494.30" y1="463.74" x2="494.30" y2="481.66" stroke="#000" stroke-width="0.7"/>
<line x1="491.70" y1="463.74" x2="496.90" y2="463.74" stroke="#000" stroke-width="0.7"/>
<line x1="491.70" y1="481.66" x2="496.90" y2="481.66" stroke="#000" stroke-width="0.7"/>
<circle cx="494.30" cy="462.62" r="1.25" fill="#000"/>
<circle cx="494.30" cy="468.22" r="1.25" fill="#000"/>
<circle cx="494.30" cy="474.94" r="1.25" fill="#000"/>
<circle cx="494.30" cy="483.90" r="1.25" fill="#000"/>
<line x1="417.50" y1="427.50" x2="417.50" y2="517.50" stroke="#a8a8a8" stroke-width="1.0"/>
<line x1="417.00" y1="517.80" x2="508.20" y2="517.80" stroke="#a8a8a8" stroke-width="1.2"/>
<line x1="414.50" y1="517.50" x2="417.50" y2="517.50" stroke="#a8a8a8" stroke-width="1.0"/>
<text x="413.20" y="520.40" font-size="8.3" text-anchor="end" fill="#231f20">0</text>
<line x1="414.50" y1="495.50" x2="417.50" y2="495.50" stroke="#a8a8a8" stroke-width="1.0"/>
<text x="413.20" y="498.00" font-size="8.3" text-anchor="end" fill="#231f20">20</text>
<line x1="414.50" y1="472.50" x2="417.50" y2="472.50" stroke="#a8a8a8" stroke-width="1.0"/>
<text x="413.20" y="475.60" font-size="8.3" text-anchor="end" fill="#231f20">40</text>
<line x1="414.50" y1="450.50" x2="417.50" y2="450.50" stroke="#a8a8a8" stroke-width="1.0"/>
<text x="413.20" y="453.20" font-size="8.3" text-anchor="end" fill="#231f20">60</text>
<line x1="414.50" y1="427.50" x2="417.50" y2="427.50" stroke="#a8a8a8" stroke-width="1.0"/>
<text x="413.20" y="430.80" font-size="8.3" text-anchor="end" fill="#231f20">80</text>
<line x1="431.50" y1="517.50" x2="431.50" y2="520.50" stroke="#a8a8a8" stroke-width="1.0"/>
<line x1="452.50" y1="517.50" x2="452.50" y2="520.50" stroke="#a8a8a8" stroke-width="1.0"/>
<line x1="473.50" y1="517.50" x2="473.50" y2="520.50" stroke="#a8a8a8" stroke-width="1.0"/>
<line x1="494.50" y1="517.50" x2="494.50" y2="520.50" stroke="#a8a8a8" stroke-width="1.0"/>
<text x="0.00" y="0.00" font-size="8.5" text-anchor="end" fill="#231f20" transform="translate(435.20,524.50) rotate(-45)">Vehicle</text>
<text x="0.00" y="0.00" font-size="8.5" text-anchor="end" fill="#231f20" transform="translate(456.15,524.50) rotate(-45)">10 mg/kg</text>
<text x="0.00" y="0.00" font-size="8.5" text-anchor="end" fill="#231f20" transform="translate(476.95,524.50) rotate(-45)">20 mg/kg</text>
<text x="0.00" y="0.00" font-size="8.5" text-anchor="end" fill="#231f20" transform="translate(497.90,524.50) rotate(-45)">40 mg/kg</text>
<text x="0.00" y="0.00" font-size="8.5" text-anchor="middle" fill="#231f20" transform="translate(399.90,472.30) rotate(-90)">BUN (mM/L)</text>
<line x1="431.00" y1="431.30" x2="473.20" y2="431.30" stroke="#4a4a4a" stroke-width="0.8"/>
<line x1="431.00" y1="431.30" x2="431.00" y2="465.00" stroke="#4a4a4a" stroke-width="0.8"/>
<line x1="473.20" y1="431.30" x2="473.20" y2="442.80" stroke="#4a4a4a" stroke-width="0.8"/>
<line x1="452.20" y1="442.80" x2="494.90" y2="442.80" stroke="#999" stroke-width="0.9"/>
<text x="452.60" y="429.70" font-size="8.3" text-anchor="middle" fill="#231f20">ns</text>
<rect x="552.50" y="458.50" width="14.00" height="59.00" fill="#c7dcf5" stroke="#7a7a7a" stroke-width="1.0"/>
<rect x="573.50" y="460.50" width="14.00" height="57.00" fill="#ac7bc2" stroke="#7a7a7a" stroke-width="1.0"/>
<rect x="594.50" y="471.50" width="14.00" height="46.00" fill="#ff7a80" stroke="#7a7a7a" stroke-width="1.0"/>
<rect x="615.50" y="459.50" width="14.00" height="58.00" fill="#ffa040" stroke="#7a7a7a" stroke-width="1.0"/>
<line x1="559.55" y1="439.56" x2="559.55" y2="476.50" stroke="#000" stroke-width="0.7"/>
<line x1="556.95" y1="439.56" x2="562.15" y2="439.56" stroke="#000" stroke-width="0.7"/>
<line x1="556.95" y1="476.50" x2="562.15" y2="476.50" stroke="#000" stroke-width="0.7"/>
<circle cx="557.55" cy="446.32" r="1.25" fill="#000"/>
<circle cx="561.55" cy="445.42" r="1.25" fill="#000"/>
<circle cx="559.55" cy="454.43" r="1.25" fill="#000"/>
<circle cx="559.55" cy="485.51" r="1.25" fill="#000"/>
<line x1="580.25" y1="446.32" x2="580.25" y2="474.70" stroke="#000" stroke-width="0.7"/>
<line x1="577.65" y1="446.32" x2="582.85" y2="446.32" stroke="#000" stroke-width="0.7"/>
<line x1="577.65" y1="474.70" x2="582.85" y2="474.70" stroke="#000" stroke-width="0.7"/>
<circle cx="580.25" cy="440.01" r="1.25" fill="#000"/>
<circle cx="580.25" cy="464.34" r="1.25" fill="#000"/>
<circle cx="580.25" cy="467.94" r="1.25" fill="#000"/>
<circle cx="580.25" cy="470.65" r="1.25" fill="#000"/>
<line x1="601.25" y1="467.04" x2="601.25" y2="473.35" stroke="#000" stroke-width="0.7"/>
<line x1="598.65" y1="467.04" x2="603.85" y2="467.04" stroke="#000" stroke-width="0.7"/>
<line x1="598.65" y1="473.35" x2="603.85" y2="473.35" stroke="#000" stroke-width="0.7"/>
<circle cx="601.25" cy="467.04" r="1.25" fill="#000"/>
<circle cx="599.25" cy="472.45" r="1.25" fill="#000"/>
<circle cx="603.25" cy="472.45" r="1.25" fill="#000"/>
<circle cx="601.25" cy="470.65" r="1.25" fill="#000"/>
<line x1="622.35" y1="442.27" x2="622.35" y2="476.50" stroke="#000" stroke-width="0.7"/>
<line x1="619.75" y1="442.27" x2="624.95" y2="442.27" stroke="#000" stroke-width="0.7"/>
<line x1="619.75" y1="476.50" x2="624.95" y2="476.50" stroke="#000" stroke-width="0.7"/>
<circle cx="622.35" cy="437.31" r="1.25" fill="#000"/>
<circle cx="622.35" cy="458.03" r="1.25" fill="#000"/>
<circle cx="622.35" cy="465.24" r="1.25" fill="#000"/>
<circle cx="622.35" cy="477.41" r="1.25" fill="#000"/>
<line x1="545.50" y1="427.50" x2="545.50" y2="517.50" stroke="#a8a8a8" stroke-width="1.0"/>
<line x1="545.00" y1="517.80" x2="636.40" y2="517.80" stroke="#a8a8a8" stroke-width="1.2"/>
<line x1="542.50" y1="517.50" x2="545.50" y2="517.50" stroke="#a8a8a8" stroke-width="1.0"/>
<text x="541.20" y="520.40" font-size="8.3" text-anchor="end" fill="#231f20">0</text>
<line x1="542.50" y1="499.50" x2="545.50" y2="499.50" stroke="#a8a8a8" stroke-width="1.0"/>
<text x="541.20" y="502.38" font-size="8.3" text-anchor="end" fill="#231f20">200</text>
<line x1="542.50" y1="481.50" x2="545.50" y2="481.50" stroke="#a8a8a8" stroke-width="1.0"/>
<text x="541.20" y="484.36" font-size="8.3" text-anchor="end" fill="#231f20">400</text>
<line x1="542.50" y1="463.50" x2="545.50" y2="463.50" stroke="#a8a8a8" stroke-width="1.0"/>
<text x="541.20" y="466.34" font-size="8.3" text-anchor="end" fill="#231f20">600</text>
<line x1="542.50" y1="445.50" x2="545.50" y2="445.50" stroke="#a8a8a8" stroke-width="1.0"/>
<text x="541.20" y="448.32" font-size="8.3" text-anchor="end" fill="#231f20">800</text>
<line x1="542.50" y1="427.50" x2="545.50" y2="427.50" stroke="#a8a8a8" stroke-width="1.0"/>
<text x="541.20" y="430.30" font-size="8.3" text-anchor="end" fill="#231f20">1000</text>
<line x1="559.50" y1="517.50" x2="559.50" y2="520.50" stroke="#a8a8a8" stroke-width="1.0"/>
<line x1="580.50" y1="517.50" x2="580.50" y2="520.50" stroke="#a8a8a8" stroke-width="1.0"/>
<line x1="601.50" y1="517.50" x2="601.50" y2="520.50" stroke="#a8a8a8" stroke-width="1.0"/>
<line x1="622.50" y1="517.50" x2="622.50" y2="520.50" stroke="#a8a8a8" stroke-width="1.0"/>
<text x="0.00" y="0.00" font-size="8.5" text-anchor="end" fill="#231f20" transform="translate(563.15,524.50) rotate(-45)">Vehicle</text>
<text x="0.00" y="0.00" font-size="8.5" text-anchor="end" fill="#231f20" transform="translate(583.85,524.50) rotate(-45)">10 mg/kg</text>
<text x="0.00" y="0.00" font-size="8.5" text-anchor="end" fill="#231f20" transform="translate(604.85,524.50) rotate(-45)">20 mg/kg</text>
<text x="0.00" y="0.00" font-size="8.5" text-anchor="end" fill="#231f20" transform="translate(625.95,524.50) rotate(-45)">40 mg/kg</text>
<text x="0.00" y="0.00" font-size="8.5" text-anchor="middle" fill="#231f20" transform="translate(522.60,472.30) rotate(-90)">LDH (U/L)</text>
<line x1="559.10" y1="425.40" x2="602.40" y2="425.40" stroke="#4a4a4a" stroke-width="0.8"/>
<line x1="559.10" y1="425.40" x2="559.10" y2="455.00" stroke="#4a4a4a" stroke-width="0.8"/>
<line x1="602.40" y1="425.40" x2="602.40" y2="434.30" stroke="#4a4a4a" stroke-width="0.8"/>
<line x1="580.90" y1="434.30" x2="623.10" y2="434.30" stroke="#999" stroke-width="0.9"/>
<text x="581.25" y="424.00" font-size="8.3" text-anchor="middle" fill="#231f20">ns</text>
</svg></body></html>
